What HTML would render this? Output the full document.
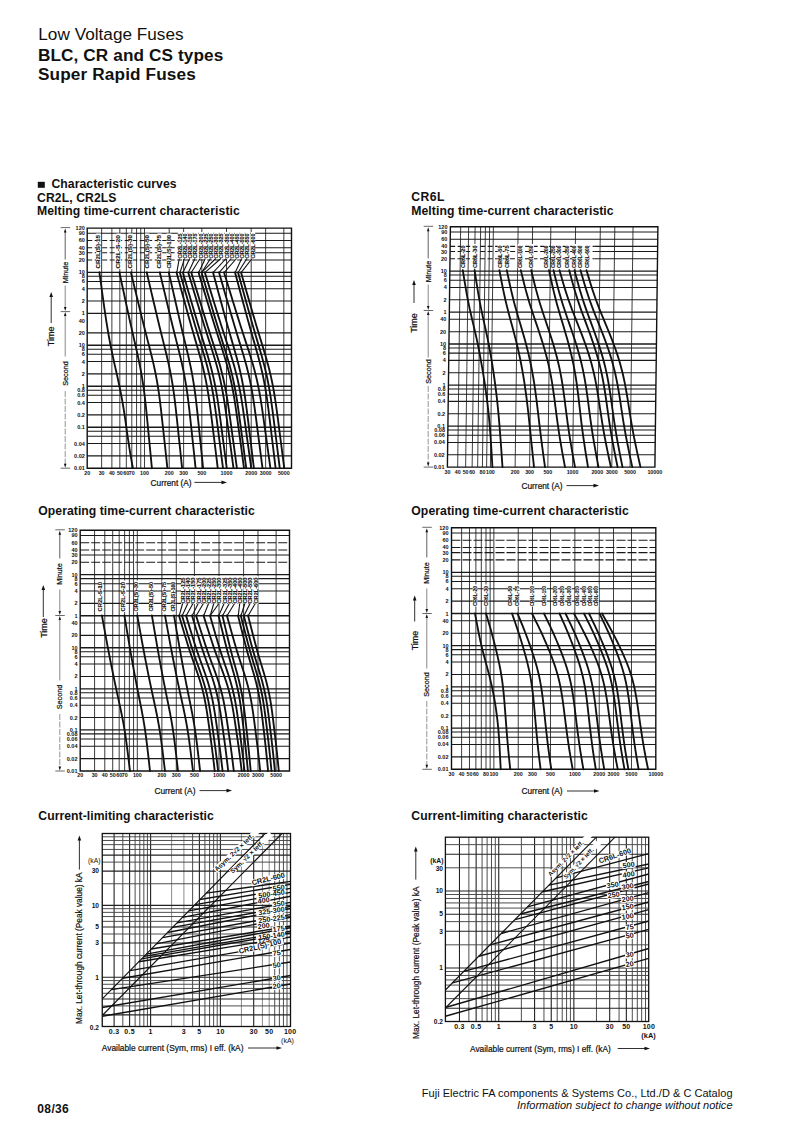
<!DOCTYPE html>
<html><head><meta charset="utf-8"><style>
html,body{margin:0;padding:0;background:#fff;}
body{width:800px;height:1132px;position:relative;overflow:hidden;font-family:"Liberation Sans",sans-serif;color:#111;}
.t{position:absolute;white-space:nowrap;line-height:1;}
svg{position:absolute;left:0;top:0;}
svg text{font-family:"Liberation Sans",sans-serif;}
</style></head><body>
<svg width="800" height="1132" viewBox="0 0 800 1132">
<line x1="87.2" y1="233.22" x2="291.5" y2="233.22" stroke="#1a1a1a" stroke-width="1.05"/>
<line x1="87.2" y1="240.44" x2="256" y2="240.44" stroke="#1a1a1a" stroke-width="1.05" stroke-dasharray="5 2.5"/>
<line x1="256" y1="240.44" x2="291.5" y2="240.44" stroke="#1a1a1a" stroke-width="1.05"/>
<line x1="87.2" y1="247.66" x2="256" y2="247.66" stroke="#1a1a1a" stroke-width="1.05" stroke-dasharray="5 2.5"/>
<line x1="256" y1="247.66" x2="291.5" y2="247.66" stroke="#1a1a1a" stroke-width="1.05"/>
<line x1="87.2" y1="252.78" x2="256" y2="252.78" stroke="#1a1a1a" stroke-width="1.05" stroke-dasharray="5 2.5"/>
<line x1="256" y1="252.78" x2="291.5" y2="252.78" stroke="#1a1a1a" stroke-width="1.05"/>
<line x1="87.2" y1="260" x2="256" y2="260" stroke="#1a1a1a" stroke-width="1.05" stroke-dasharray="5 2.5"/>
<line x1="256" y1="260" x2="291.5" y2="260" stroke="#1a1a1a" stroke-width="1.05"/>
<line x1="87.2" y1="272.34" x2="291.5" y2="272.34" stroke="#1a1a1a" stroke-width="1.35"/>
<line x1="87.2" y1="276.31" x2="291.5" y2="276.31" stroke="#1a1a1a" stroke-width="1.05"/>
<line x1="87.2" y1="281.43" x2="291.5" y2="281.43" stroke="#1a1a1a" stroke-width="1.05"/>
<line x1="87.2" y1="288.65" x2="291.5" y2="288.65" stroke="#1a1a1a" stroke-width="1.05"/>
<line x1="87.2" y1="300.99" x2="291.5" y2="300.99" stroke="#1a1a1a" stroke-width="1.05"/>
<line x1="87.2" y1="313.33" x2="291.5" y2="313.33" stroke="#1a1a1a" stroke-width="1.35"/>
<line x1="87.2" y1="332.89" x2="291.5" y2="332.89" stroke="#1a1a1a" stroke-width="1.05"/>
<line x1="87.2" y1="345.23" x2="291.5" y2="345.23" stroke="#1a1a1a" stroke-width="1.35"/>
<line x1="87.2" y1="349.2" x2="291.5" y2="349.2" stroke="#1a1a1a" stroke-width="1.05"/>
<line x1="87.2" y1="354.32" x2="291.5" y2="354.32" stroke="#1a1a1a" stroke-width="1.05"/>
<line x1="87.2" y1="361.54" x2="291.5" y2="361.54" stroke="#1a1a1a" stroke-width="1.05"/>
<line x1="87.2" y1="373.88" x2="291.5" y2="373.88" stroke="#1a1a1a" stroke-width="1.05"/>
<line x1="87.2" y1="386.22" x2="291.5" y2="386.22" stroke="#1a1a1a" stroke-width="1.35"/>
<line x1="87.2" y1="390.19" x2="291.5" y2="390.19" stroke="#1a1a1a" stroke-width="1.05"/>
<line x1="87.2" y1="395.31" x2="291.5" y2="395.31" stroke="#1a1a1a" stroke-width="1.05"/>
<line x1="87.2" y1="402.53" x2="291.5" y2="402.53" stroke="#1a1a1a" stroke-width="1.05"/>
<line x1="87.2" y1="414.87" x2="291.5" y2="414.87" stroke="#1a1a1a" stroke-width="1.05"/>
<line x1="87.2" y1="427.21" x2="291.5" y2="427.21" stroke="#1a1a1a" stroke-width="1.35"/>
<line x1="87.2" y1="431.18" x2="291.5" y2="431.18" stroke="#1a1a1a" stroke-width="1.05"/>
<line x1="87.2" y1="436.3" x2="291.5" y2="436.3" stroke="#1a1a1a" stroke-width="1.05"/>
<line x1="87.2" y1="443.52" x2="291.5" y2="443.52" stroke="#1a1a1a" stroke-width="1.05"/>
<line x1="87.2" y1="455.86" x2="291.5" y2="455.86" stroke="#1a1a1a" stroke-width="1.05"/>
<line x1="101.64" y1="228.1" x2="101.64" y2="468.2" stroke="#1a1a1a" stroke-width="0.85"/>
<line x1="111.88" y1="228.1" x2="111.88" y2="468.2" stroke="#1a1a1a" stroke-width="0.85"/>
<line x1="119.83" y1="228.1" x2="119.83" y2="468.2" stroke="#1a1a1a" stroke-width="0.85"/>
<line x1="126.32" y1="228.1" x2="126.32" y2="468.2" stroke="#1a1a1a" stroke-width="0.85"/>
<line x1="131.81" y1="228.1" x2="131.81" y2="468.2" stroke="#1a1a1a" stroke-width="0.85"/>
<line x1="136.57" y1="228.1" x2="136.57" y2="468.2" stroke="#1a1a1a" stroke-width="0.85"/>
<line x1="140.76" y1="228.1" x2="140.76" y2="468.2" stroke="#1a1a1a" stroke-width="0.85"/>
<line x1="144.52" y1="228.1" x2="144.52" y2="468.2" stroke="#1a1a1a" stroke-width="0.85"/>
<line x1="169.2" y1="228.1" x2="169.2" y2="468.2" stroke="#1a1a1a" stroke-width="0.85"/>
<line x1="183.64" y1="228.1" x2="183.64" y2="468.2" stroke="#1a1a1a" stroke-width="0.85"/>
<line x1="201.83" y1="228.1" x2="201.83" y2="468.2" stroke="#1a1a1a" stroke-width="0.85"/>
<line x1="226.52" y1="228.1" x2="226.52" y2="468.2" stroke="#1a1a1a" stroke-width="0.85"/>
<line x1="251.2" y1="228.1" x2="251.2" y2="468.2" stroke="#1a1a1a" stroke-width="0.85"/>
<line x1="265.64" y1="228.1" x2="265.64" y2="468.2" stroke="#1a1a1a" stroke-width="0.85"/>
<line x1="283.83" y1="228.1" x2="283.83" y2="468.2" stroke="#1a1a1a" stroke-width="0.85"/>
<rect x="96.2" y="233.5" width="4.6" height="35.5" fill="#fff"/>
<rect x="116.5" y="233.5" width="4.6" height="35.5" fill="#fff"/>
<rect x="128.2" y="233.5" width="4.6" height="35.5" fill="#fff"/>
<rect x="144.9" y="233.5" width="4.6" height="35.5" fill="#fff"/>
<rect x="157.3" y="233.5" width="4.6" height="35.5" fill="#fff"/>
<rect x="166.6" y="233.5" width="4.6" height="35.5" fill="#fff"/>
<rect x="177.8" y="232" width="4.6" height="27" fill="#fff"/>
<rect x="183" y="232" width="4.6" height="27" fill="#fff"/>
<rect x="188.2" y="232" width="4.6" height="27" fill="#fff"/>
<rect x="193.4" y="232" width="4.6" height="27" fill="#fff"/>
<rect x="198.6" y="232" width="4.6" height="27" fill="#fff"/>
<rect x="203.8" y="232" width="4.6" height="27" fill="#fff"/>
<rect x="209" y="232" width="4.6" height="27" fill="#fff"/>
<rect x="214.2" y="232" width="4.6" height="27" fill="#fff"/>
<rect x="219.4" y="232" width="4.6" height="27" fill="#fff"/>
<rect x="224.6" y="232" width="4.6" height="27" fill="#fff"/>
<rect x="229.8" y="232" width="4.6" height="27" fill="#fff"/>
<rect x="235" y="232" width="4.6" height="27" fill="#fff"/>
<rect x="240.2" y="232" width="4.6" height="27" fill="#fff"/>
<rect x="245.4" y="232" width="4.6" height="27" fill="#fff"/>
<rect x="250.6" y="232" width="4.6" height="27" fill="#fff"/>
<text x="100.1" y="268.5" font-size="4.5" text-anchor="start" font-weight="bold" fill="#111" transform="rotate(-90 100.1 268.5)" stroke="#111" stroke-width="0.12" textLength="33.5" lengthAdjust="spacingAndGlyphs">CR2L(S)-15</text>
<text x="120.4" y="268.5" font-size="4.5" text-anchor="start" font-weight="bold" fill="#111" transform="rotate(-90 120.4 268.5)" stroke="#111" stroke-width="0.12" textLength="33.5" lengthAdjust="spacingAndGlyphs">CR2L-S-20</text>
<text x="132.1" y="268.5" font-size="4.5" text-anchor="start" font-weight="bold" fill="#111" transform="rotate(-90 132.1 268.5)" stroke="#111" stroke-width="0.12" textLength="33.5" lengthAdjust="spacingAndGlyphs">CR2L(S)-30</text>
<text x="148.8" y="268.5" font-size="4.5" text-anchor="start" font-weight="bold" fill="#111" transform="rotate(-90 148.8 268.5)" stroke="#111" stroke-width="0.12" textLength="33.5" lengthAdjust="spacingAndGlyphs">CR2L(S)-50</text>
<text x="161.2" y="268.5" font-size="4.5" text-anchor="start" font-weight="bold" fill="#111" transform="rotate(-90 161.2 268.5)" stroke="#111" stroke-width="0.12" textLength="33.5" lengthAdjust="spacingAndGlyphs">CR2L(S)-75</text>
<text x="170.5" y="268.5" font-size="4.5" text-anchor="start" font-weight="bold" fill="#111" transform="rotate(-90 170.5 268.5)" stroke="#111" stroke-width="0.12" textLength="33.5" lengthAdjust="spacingAndGlyphs">CR2L(S)-100</text>
<text x="181.7" y="258.5" font-size="4.5" text-anchor="start" font-weight="bold" fill="#111" transform="rotate(-90 181.7 258.5)" stroke="#111" stroke-width="0.12" textLength="25" lengthAdjust="spacingAndGlyphs">CR2L-125</text>
<text x="186.9" y="258.5" font-size="4.5" text-anchor="start" font-weight="bold" fill="#111" transform="rotate(-90 186.9 258.5)" stroke="#111" stroke-width="0.12" textLength="25" lengthAdjust="spacingAndGlyphs">CR2L-140</text>
<text x="192.1" y="258.5" font-size="4.5" text-anchor="start" font-weight="bold" fill="#111" transform="rotate(-90 192.1 258.5)" stroke="#111" stroke-width="0.12" textLength="25" lengthAdjust="spacingAndGlyphs">CR2L-150</text>
<text x="197.3" y="258.5" font-size="4.5" text-anchor="start" font-weight="bold" fill="#111" transform="rotate(-90 197.3 258.5)" stroke="#111" stroke-width="0.12" textLength="25" lengthAdjust="spacingAndGlyphs">CR2L-175</text>
<text x="202.5" y="258.5" font-size="4.5" text-anchor="start" font-weight="bold" fill="#111" transform="rotate(-90 202.5 258.5)" stroke="#111" stroke-width="0.12" textLength="25" lengthAdjust="spacingAndGlyphs">CR2L-200</text>
<text x="207.7" y="258.5" font-size="4.5" text-anchor="start" font-weight="bold" fill="#111" transform="rotate(-90 207.7 258.5)" stroke="#111" stroke-width="0.12" textLength="25" lengthAdjust="spacingAndGlyphs">CR2L-225</text>
<text x="212.9" y="258.5" font-size="4.5" text-anchor="start" font-weight="bold" fill="#111" transform="rotate(-90 212.9 258.5)" stroke="#111" stroke-width="0.12" textLength="25" lengthAdjust="spacingAndGlyphs">CR2L-250</text>
<text x="218.1" y="258.5" font-size="4.5" text-anchor="start" font-weight="bold" fill="#111" transform="rotate(-90 218.1 258.5)" stroke="#111" stroke-width="0.12" textLength="25" lengthAdjust="spacingAndGlyphs">CR2L-300</text>
<text x="223.3" y="258.5" font-size="4.5" text-anchor="start" font-weight="bold" fill="#111" transform="rotate(-90 223.3 258.5)" stroke="#111" stroke-width="0.12" textLength="25" lengthAdjust="spacingAndGlyphs">CR2L-325</text>
<text x="228.5" y="258.5" font-size="4.5" text-anchor="start" font-weight="bold" fill="#111" transform="rotate(-90 228.5 258.5)" stroke="#111" stroke-width="0.12" textLength="25" lengthAdjust="spacingAndGlyphs">CR2L-350</text>
<text x="233.7" y="258.5" font-size="4.5" text-anchor="start" font-weight="bold" fill="#111" transform="rotate(-90 233.7 258.5)" stroke="#111" stroke-width="0.12" textLength="25" lengthAdjust="spacingAndGlyphs">CR2L-400</text>
<text x="238.9" y="258.5" font-size="4.5" text-anchor="start" font-weight="bold" fill="#111" transform="rotate(-90 238.9 258.5)" stroke="#111" stroke-width="0.12" textLength="25" lengthAdjust="spacingAndGlyphs">CR2L-450</text>
<text x="244.1" y="258.5" font-size="4.5" text-anchor="start" font-weight="bold" fill="#111" transform="rotate(-90 244.1 258.5)" stroke="#111" stroke-width="0.12" textLength="25" lengthAdjust="spacingAndGlyphs">CR2L-500</text>
<text x="249.3" y="258.5" font-size="4.5" text-anchor="start" font-weight="bold" fill="#111" transform="rotate(-90 249.3 258.5)" stroke="#111" stroke-width="0.12" textLength="25" lengthAdjust="spacingAndGlyphs">CR2L-550</text>
<text x="254.5" y="258.5" font-size="4.5" text-anchor="start" font-weight="bold" fill="#111" transform="rotate(-90 254.5 258.5)" stroke="#111" stroke-width="0.12" textLength="25" lengthAdjust="spacingAndGlyphs">CR2L-600</text>
<line x1="179.3" y1="258.5" x2="176.8" y2="272.3" stroke="#111" stroke-width="1.1"/>
<line x1="184.5" y1="258.5" x2="180.1" y2="272.3" stroke="#111" stroke-width="1.1"/>
<line x1="189.7" y1="258.5" x2="183.1" y2="272.3" stroke="#111" stroke-width="1.1"/>
<line x1="194.9" y1="258.5" x2="188.5" y2="272.3" stroke="#111" stroke-width="1.1"/>
<line x1="200.1" y1="258.5" x2="191.5" y2="272.3" stroke="#111" stroke-width="1.1"/>
<line x1="205.3" y1="258.5" x2="198.8" y2="272.3" stroke="#111" stroke-width="1.1"/>
<line x1="210.5" y1="258.5" x2="201.8" y2="272.3" stroke="#111" stroke-width="1.1"/>
<line x1="215.7" y1="258.5" x2="201.8" y2="272.3" stroke="#111" stroke-width="1.1"/>
<line x1="220.9" y1="258.5" x2="205.1" y2="272.3" stroke="#111" stroke-width="1.1"/>
<line x1="226.1" y1="258.5" x2="213.3" y2="272.3" stroke="#111" stroke-width="1.1"/>
<line x1="231.3" y1="258.5" x2="219.3" y2="272.3" stroke="#111" stroke-width="1.1"/>
<line x1="236.5" y1="258.5" x2="224.3" y2="272.3" stroke="#111" stroke-width="1.1"/>
<line x1="241.7" y1="258.5" x2="235.3" y2="272.3" stroke="#111" stroke-width="1.1"/>
<line x1="246.9" y1="258.5" x2="238.3" y2="272.3" stroke="#111" stroke-width="1.1"/>
<line x1="252.1" y1="258.5" x2="241.3" y2="272.3" stroke="#111" stroke-width="1.1"/>
<path d="M87.2 228.1 L291.5 228.1 L291.5 468.2 L87.2 468.2 Z" fill="none" stroke="#111" stroke-width="1.4"/>
<path d="M99.4 272.3 L100.07 277.2 L100.74 282.1 L101.41 286.99 L102.09 291.89 L102.76 296.79 L103.45 301.69 L104.14 306.58 L104.85 311.48 L105.58 316.38 L106.34 321.27 L107.13 326.17 L107.94 331.07 L108.79 335.97 L109.69 340.87 L110.63 345.76 L111.62 350.66 L112.64 355.56 L113.71 360.45 L114.81 365.35 L115.92 370.25 L117.03 375.15 L118.12 380.05 L119.17 384.94 L120.18 389.84 L121.14 394.74 L122.05 399.63 L122.9 404.53 L123.71 409.43 L124.47 414.33 L125.21 419.23 L125.91 424.12 L126.6 429.02 L127.29 433.92 L128 438.81 L128.73 443.71 L129.5 448.61 L130.31 453.51 L131.14 458.4 L132.02 463.3 L132.9 468.2" fill="none" stroke="#111" stroke-width="1.85" stroke-linejoin="round" stroke-linecap="round"/>
<path d="M119.4 272.3 L120.45 277.2 L121.5 282.1 L122.55 286.99 L123.61 291.89 L124.66 296.79 L125.72 301.69 L126.78 306.58 L127.84 311.48 L128.92 316.38 L129.99 321.27 L131.09 326.17 L132.18 331.07 L133.3 335.97 L134.42 340.87 L135.55 345.76 L136.67 350.66 L137.75 355.56 L138.81 360.45 L139.82 365.35 L140.76 370.25 L141.64 375.15 L142.46 380.05 L143.2 384.94 L143.89 389.84 L144.52 394.74 L145.1 399.63 L145.65 404.53 L146.16 409.43 L146.66 414.33 L147.15 419.23 L147.63 424.12 L148.11 429.02 L148.58 433.92 L149.06 438.81 L149.54 443.71 L150.01 448.61 L150.49 453.51 L150.96 458.4 L151.43 463.3 L151.9 468.2" fill="none" stroke="#111" stroke-width="1.85" stroke-linejoin="round" stroke-linecap="round"/>
<path d="M130.9 272.3 L132.08 277.2 L133.26 282.1 L134.44 286.99 L135.63 291.89 L136.81 296.79 L138 301.69 L139.18 306.58 L140.38 311.48 L141.59 316.38 L142.8 321.27 L144.03 326.17 L145.26 331.07 L146.51 335.97 L147.77 340.87 L149.04 345.76 L150.29 350.66 L151.51 355.56 L152.7 360.45 L153.83 365.35 L154.89 370.25 L155.88 375.15 L156.8 380.05 L157.63 384.94 L158.4 389.84 L159.11 394.74 L159.77 399.63 L160.38 404.53 L160.96 409.43 L161.51 414.33 L162.06 419.23 L162.6 424.12 L163.14 429.02 L163.67 433.92 L164.21 438.81 L164.75 443.71 L165.28 448.61 L165.82 453.51 L166.34 458.4 L166.87 463.3 L167.4 468.2" fill="none" stroke="#111" stroke-width="1.85" stroke-linejoin="round" stroke-linecap="round"/>
<path d="M146.7 272.3 L147.84 277.2 L148.99 282.1 L150.14 286.99 L151.28 291.89 L152.43 296.79 L153.58 301.69 L154.74 306.58 L155.9 311.48 L157.06 316.38 L158.24 321.27 L159.43 326.17 L160.62 331.07 L161.84 335.97 L163.06 340.87 L164.29 345.76 L165.51 350.66 L166.69 355.56 L167.84 360.45 L168.94 365.35 L169.97 370.25 L170.93 375.15 L171.81 380.05 L172.62 384.94 L173.37 389.84 L174.06 394.74 L174.7 399.63 L175.29 404.53 L175.85 409.43 L176.39 414.33 L176.92 419.23 L177.45 424.12 L177.97 429.02 L178.49 433.92 L179.01 438.81 L179.53 443.71 L180.05 448.61 L180.56 453.51 L181.08 458.4 L181.59 463.3 L182.1 468.2" fill="none" stroke="#111" stroke-width="1.85" stroke-linejoin="round" stroke-linecap="round"/>
<path d="M159.8 272.3 L160.96 277.2 L162.11 282.1 L163.27 286.99 L164.43 291.89 L165.6 296.79 L166.76 301.69 L167.93 306.58 L169.1 311.48 L170.28 316.38 L171.47 321.27 L172.67 326.17 L173.88 331.07 L175.11 335.97 L176.35 340.87 L177.59 345.76 L178.82 350.66 L180.02 355.56 L181.18 360.45 L182.29 365.35 L183.33 370.25 L184.3 375.15 L185.2 380.05 L186.02 384.94 L186.77 389.84 L187.47 394.74 L188.11 399.63 L188.71 404.53 L189.28 409.43 L189.83 414.33 L190.36 419.23 L190.89 424.12 L191.42 429.02 L191.95 433.92 L192.47 438.81 L193 443.71 L193.52 448.61 L194.05 453.51 L194.56 458.4 L195.08 463.3 L195.6 468.2" fill="none" stroke="#111" stroke-width="1.85" stroke-linejoin="round" stroke-linecap="round"/>
<path d="M168.8 272.3 L169.91 277.2 L171.02 282.1 L172.13 286.99 L173.24 291.89 L174.35 296.79 L175.47 301.69 L176.59 306.58 L177.71 311.48 L178.84 316.38 L179.98 321.27 L181.14 326.17 L182.29 331.07 L183.47 335.97 L184.66 340.87 L185.84 345.76 L187.02 350.66 L188.17 355.56 L189.28 360.45 L190.35 365.35 L191.34 370.25 L192.28 375.15 L193.13 380.05 L193.92 384.94 L194.64 389.84 L195.31 394.74 L195.93 399.63 L196.5 404.53 L197.04 409.43 L197.57 414.33 L198.08 419.23 L198.59 424.12 L199.1 429.02 L199.6 433.92 L200.1 438.81 L200.61 443.71 L201.11 448.61 L201.61 453.51 L202.11 458.4 L202.61 463.3 L203.1 468.2" fill="none" stroke="#111" stroke-width="1.85" stroke-linejoin="round" stroke-linecap="round"/>
<path d="M176.5 272.3 L177.83 277.2 L179.16 282.1 L180.5 286.99 L181.84 291.89 L183.18 296.79 L184.52 301.69 L185.86 306.58 L187.22 311.48 L188.58 316.38 L189.95 321.27 L191.33 326.17 L192.73 331.07 L194.14 335.97 L195.57 340.87 L197 345.76 L198.41 350.66 L199.79 355.56 L201.13 360.45 L202.41 365.35 L203.61 370.25 L204.73 375.15 L205.77 380.05 L206.71 384.94 L207.58 389.84 L208.38 394.74 L209.12 399.63 L209.82 404.53 L210.47 409.43 L211.1 414.33 L211.72 419.23 L212.33 424.12 L212.94 429.02 L213.54 433.92 L214.15 438.81 L214.75 443.71 L215.36 448.61 L215.96 453.51 L216.56 458.4 L217.16 463.3 L217.75 468.2" fill="none" stroke="#111" stroke-width="1.85" stroke-linejoin="round" stroke-linecap="round"/>
<path d="M179.8 272.3 L181.2 277.2 L182.59 282.1 L183.99 286.99 L185.39 291.89 L186.79 296.79 L188.2 301.69 L189.61 306.58 L191.02 311.48 L192.45 316.38 L193.88 321.27 L195.34 326.17 L196.79 331.07 L198.27 335.97 L199.77 340.87 L201.26 345.76 L202.75 350.66 L204.2 355.56 L205.6 360.45 L206.94 365.35 L208.19 370.25 L209.37 375.15 L210.45 380.05 L211.44 384.94 L212.35 389.84 L213.19 394.74 L213.97 399.63 L214.69 404.53 L215.37 409.43 L216.03 414.33 L216.68 419.23 L217.32 424.12 L217.96 429.02 L218.59 433.92 L219.23 438.81 L219.86 443.71 L220.49 448.61 L221.13 453.51 L221.75 458.4 L222.38 463.3 L223 468.2" fill="none" stroke="#111" stroke-width="1.85" stroke-linejoin="round" stroke-linecap="round"/>
<path d="M182.8 272.3 L184.22 277.2 L185.64 282.1 L187.07 286.99 L188.49 291.89 L189.92 296.79 L191.35 301.69 L192.78 306.58 L194.22 311.48 L195.67 316.38 L197.13 321.27 L198.61 326.17 L200.09 331.07 L201.59 335.97 L203.12 340.87 L204.64 345.76 L206.15 350.66 L207.62 355.56 L209.05 360.45 L210.41 365.35 L211.69 370.25 L212.88 375.15 L213.98 380.05 L214.99 384.94 L215.92 389.84 L216.77 394.74 L217.56 399.63 L218.3 404.53 L218.99 409.43 L219.66 414.33 L220.32 419.23 L220.97 424.12 L221.62 429.02 L222.26 433.92 L222.91 438.81 L223.56 443.71 L224.2 448.61 L224.84 453.51 L225.48 458.4 L226.12 463.3 L226.75 468.2" fill="none" stroke="#111" stroke-width="1.85" stroke-linejoin="round" stroke-linecap="round"/>
<path d="M188.2 272.3 L189.66 277.2 L191.13 282.1 L192.6 286.99 L194.06 291.89 L195.53 296.79 L197.01 301.69 L198.48 306.58 L199.97 311.48 L201.46 316.38 L202.97 321.27 L204.49 326.17 L206.02 331.07 L207.57 335.97 L209.14 340.87 L210.71 345.76 L212.27 350.66 L213.78 355.56 L215.25 360.45 L216.66 365.35 L217.98 370.25 L219.21 375.15 L220.34 380.05 L221.37 384.94 L222.33 389.84 L223.21 394.74 L224.03 399.63 L224.79 404.53 L225.5 409.43 L226.2 414.33 L226.87 419.23 L227.54 424.12 L228.21 429.02 L228.88 433.92 L229.54 438.81 L230.21 443.71 L230.87 448.61 L231.53 453.51 L232.19 458.4 L232.85 463.3 L233.5 468.2" fill="none" stroke="#111" stroke-width="1.85" stroke-linejoin="round" stroke-linecap="round"/>
<path d="M191.2 272.3 L192.68 277.2 L194.15 282.1 L195.64 286.99 L197.12 291.89 L198.6 296.79 L200.09 301.69 L201.57 306.58 L203.07 311.48 L204.58 316.38 L206.1 321.27 L207.63 326.17 L209.18 331.07 L210.74 335.97 L212.33 340.87 L213.91 345.76 L215.48 350.66 L217.01 355.56 L218.49 360.45 L219.91 365.35 L221.24 370.25 L222.48 375.15 L223.62 380.05 L224.67 384.94 L225.63 389.84 L226.52 394.74 L227.34 399.63 L228.11 404.53 L228.83 409.43 L229.53 414.33 L230.21 419.23 L230.89 424.12 L231.57 429.02 L232.23 433.92 L232.91 438.81 L233.58 443.71 L234.25 448.61 L234.92 453.51 L235.58 458.4 L236.24 463.3 L236.9 468.2" fill="none" stroke="#111" stroke-width="1.85" stroke-linejoin="round" stroke-linecap="round"/>
<path d="M198.5 272.3 L199.97 277.2 L201.44 282.1 L202.92 286.99 L204.39 291.89 L205.87 296.79 L207.35 301.69 L208.83 306.58 L210.32 311.48 L211.82 316.38 L213.33 321.27 L214.86 326.17 L216.4 331.07 L217.96 335.97 L219.53 340.87 L221.11 345.76 L222.67 350.66 L224.19 355.56 L225.67 360.45 L227.08 365.35 L228.41 370.25 L229.64 375.15 L230.78 380.05 L231.82 384.94 L232.78 389.84 L233.67 394.74 L234.49 399.63 L235.25 404.53 L235.97 409.43 L236.66 414.33 L237.34 419.23 L238.02 424.12 L238.69 429.02 L239.36 433.92 L240.03 438.81 L240.69 443.71 L241.36 448.61 L242.03 453.51 L242.68 458.4 L243.34 463.3 L244 468.2" fill="none" stroke="#111" stroke-width="1.85" stroke-linejoin="round" stroke-linecap="round"/>
<path d="M201.5 272.3 L202.95 277.2 L204.39 282.1 L205.84 286.99 L207.29 291.89 L208.75 296.79 L210.2 301.69 L211.66 306.58 L213.13 311.48 L214.6 316.38 L216.09 321.27 L217.59 326.17 L219.1 331.07 L220.64 335.97 L222.19 340.87 L223.73 345.76 L225.27 350.66 L226.77 355.56 L228.22 360.45 L229.61 365.35 L230.91 370.25 L232.13 375.15 L233.25 380.05 L234.27 384.94 L235.22 389.84 L236.09 394.74 L236.89 399.63 L237.64 404.53 L238.35 409.43 L239.03 414.33 L239.7 419.23 L240.37 424.12 L241.03 429.02 L241.68 433.92 L242.34 438.81 L243 443.71 L243.65 448.61 L244.31 453.51 L244.96 458.4 L245.6 463.3 L246.25 468.2" fill="none" stroke="#111" stroke-width="1.85" stroke-linejoin="round" stroke-linecap="round"/>
<path d="M204.8 272.3 L206.3 277.2 L207.8 282.1 L209.31 286.99 L210.81 291.89 L212.32 296.79 L213.83 301.69 L215.34 306.58 L216.87 311.48 L218.4 316.38 L219.94 321.27 L221.5 326.17 L223.07 331.07 L224.66 335.97 L226.27 340.87 L227.88 345.76 L229.48 350.66 L231.03 355.56 L232.54 360.45 L233.98 365.35 L235.33 370.25 L236.59 375.15 L237.75 380.05 L238.82 384.94 L239.8 389.84 L240.7 394.74 L241.54 399.63 L242.32 404.53 L243.05 409.43 L243.76 414.33 L244.46 419.23 L245.14 424.12 L245.83 429.02 L246.51 433.92 L247.19 438.81 L247.87 443.71 L248.56 448.61 L249.23 453.51 L249.91 458.4 L250.58 463.3 L251.25 468.2" fill="none" stroke="#111" stroke-width="1.85" stroke-linejoin="round" stroke-linecap="round"/>
<path d="M213 272.3 L214.32 277.2 L215.64 282.1 L216.97 286.99 L218.29 291.89 L219.62 296.79 L220.95 301.69 L222.28 306.58 L223.63 311.48 L224.98 316.38 L226.33 321.27 L227.71 326.17 L229.09 331.07 L230.49 335.97 L231.91 340.87 L233.32 345.76 L234.73 350.66 L236.1 355.56 L237.43 360.45 L238.69 365.35 L239.88 370.25 L240.99 375.15 L242.02 380.05 L242.95 384.94 L243.82 389.84 L244.61 394.74 L245.35 399.63 L246.03 404.53 L246.68 409.43 L247.31 414.33 L247.92 419.23 L248.52 424.12 L249.13 429.02 L249.72 433.92 L250.33 438.81 L250.93 443.71 L251.53 448.61 L252.13 453.51 L252.72 458.4 L253.31 463.3 L253.9 468.2" fill="none" stroke="#111" stroke-width="1.85" stroke-linejoin="round" stroke-linecap="round"/>
<path d="M219 272.3 L220.41 277.2 L221.81 282.1 L223.22 286.99 L224.63 291.89 L226.04 296.79 L227.46 301.69 L228.87 306.58 L230.3 311.48 L231.74 316.38 L233.18 321.27 L234.64 326.17 L236.11 331.07 L237.6 335.97 L239.11 340.87 L240.61 345.76 L242.11 350.66 L243.57 355.56 L244.98 360.45 L246.33 365.35 L247.59 370.25 L248.77 375.15 L249.86 380.05 L250.86 384.94 L251.78 389.84 L252.62 394.74 L253.4 399.63 L254.13 404.53 L254.82 409.43 L255.49 414.33 L256.14 419.23 L256.78 424.12 L257.42 429.02 L258.06 433.92 L258.7 438.81 L259.34 443.71 L259.98 448.61 L260.61 453.51 L261.24 458.4 L261.87 463.3 L262.5 468.2" fill="none" stroke="#111" stroke-width="1.85" stroke-linejoin="round" stroke-linecap="round"/>
<path d="M224 272.3 L225.5 277.2 L227 282.1 L228.5 286.99 L230.01 291.89 L231.51 296.79 L233.02 301.69 L234.53 306.58 L236.06 311.48 L237.59 316.38 L239.13 321.27 L240.69 326.17 L242.25 331.07 L243.84 335.97 L245.45 340.87 L247.05 345.76 L248.65 350.66 L250.2 355.56 L251.71 360.45 L253.15 365.35 L254.5 370.25 L255.76 375.15 L256.92 380.05 L257.98 384.94 L258.96 389.84 L259.86 394.74 L260.7 399.63 L261.47 404.53 L262.21 409.43 L262.92 414.33 L263.61 419.23 L264.3 424.12 L264.98 429.02 L265.66 433.92 L266.35 438.81 L267.03 443.71 L267.71 448.61 L268.39 453.51 L269.06 458.4 L269.73 463.3 L270.4 468.2" fill="none" stroke="#111" stroke-width="1.85" stroke-linejoin="round" stroke-linecap="round"/>
<path d="M235 272.3 L236.31 277.2 L237.62 282.1 L238.94 286.99 L240.26 291.89 L241.57 296.79 L242.89 301.69 L244.22 306.58 L245.55 311.48 L246.89 316.38 L248.24 321.27 L249.6 326.17 L250.97 331.07 L252.36 335.97 L253.77 340.87 L255.17 345.76 L256.57 350.66 L257.93 355.56 L259.25 360.45 L260.5 365.35 L261.69 370.25 L262.79 375.15 L263.8 380.05 L264.73 384.94 L265.59 389.84 L266.38 394.74 L267.11 399.63 L267.79 404.53 L268.43 409.43 L269.05 414.33 L269.66 419.23 L270.26 424.12 L270.86 429.02 L271.46 433.92 L272.05 438.81 L272.65 443.71 L273.24 448.61 L273.84 453.51 L274.43 458.4 L275.01 463.3 L275.6 468.2" fill="none" stroke="#111" stroke-width="1.85" stroke-linejoin="round" stroke-linecap="round"/>
<path d="M238 272.3 L239.35 277.2 L240.7 282.1 L242.05 286.99 L243.41 291.89 L244.76 296.79 L246.12 301.69 L247.48 306.58 L248.85 311.48 L250.22 316.38 L251.61 321.27 L253.01 326.17 L254.42 331.07 L255.85 335.97 L257.3 340.87 L258.74 345.76 L260.18 350.66 L261.58 355.56 L262.93 360.45 L264.23 365.35 L265.44 370.25 L266.58 375.15 L267.62 380.05 L268.57 384.94 L269.46 389.84 L270.27 394.74 L271.02 399.63 L271.72 404.53 L272.38 409.43 L273.02 414.33 L273.64 419.23 L274.26 424.12 L274.88 429.02 L275.49 433.92 L276.1 438.81 L276.72 443.71 L277.33 448.61 L277.94 453.51 L278.54 458.4 L279.15 463.3 L279.75 468.2" fill="none" stroke="#111" stroke-width="1.85" stroke-linejoin="round" stroke-linecap="round"/>
<path d="M241 272.3 L242.4 277.2 L243.79 282.1 L245.2 286.99 L246.6 291.89 L248 296.79 L249.41 301.69 L250.82 306.58 L252.24 311.48 L253.66 316.38 L255.1 321.27 L256.55 326.17 L258.01 331.07 L259.5 335.97 L260.99 340.87 L262.49 345.76 L263.98 350.66 L265.42 355.56 L266.83 360.45 L268.17 365.35 L269.43 370.25 L270.6 375.15 L271.68 380.05 L272.67 384.94 L273.59 389.84 L274.43 394.74 L275.21 399.63 L275.93 404.53 L276.61 409.43 L277.28 414.33 L277.92 419.23 L278.56 424.12 L279.2 429.02 L279.84 433.92 L280.47 438.81 L281.11 443.71 L281.74 448.61 L282.37 453.51 L283 458.4 L283.63 463.3 L284.25 468.2" fill="none" stroke="#111" stroke-width="1.85" stroke-linejoin="round" stroke-linecap="round"/>
<text x="84.8" y="230.1" font-size="5.5" text-anchor="end" font-weight="bold" fill="#111">120</text>
<text x="84.8" y="235.22" font-size="5.5" text-anchor="end" font-weight="bold" fill="#111">90</text>
<text x="84.8" y="242.44" font-size="5.5" text-anchor="end" font-weight="bold" fill="#111">60</text>
<text x="84.8" y="249.66" font-size="5.5" text-anchor="end" font-weight="bold" fill="#111">40</text>
<text x="84.8" y="254.78" font-size="5.5" text-anchor="end" font-weight="bold" fill="#111">30</text>
<text x="84.8" y="262" font-size="5.5" text-anchor="end" font-weight="bold" fill="#111">20</text>
<text x="84.8" y="274.34" font-size="5.5" text-anchor="end" font-weight="bold" fill="#111">10</text>
<text x="84.8" y="278.31" font-size="5.5" text-anchor="end" font-weight="bold" fill="#111">8</text>
<text x="84.8" y="283.43" font-size="5.5" text-anchor="end" font-weight="bold" fill="#111">6</text>
<text x="84.8" y="290.65" font-size="5.5" text-anchor="end" font-weight="bold" fill="#111">4</text>
<text x="84.8" y="302.99" font-size="5.5" text-anchor="end" font-weight="bold" fill="#111">2</text>
<text x="84.8" y="315.33" font-size="5.5" text-anchor="end" font-weight="bold" fill="#111">1</text>
<text x="84.8" y="322.55" font-size="5.5" text-anchor="end" font-weight="bold" fill="#111">40</text>
<text x="84.8" y="334.89" font-size="5.5" text-anchor="end" font-weight="bold" fill="#111">20</text>
<text x="84.8" y="347.23" font-size="5.5" text-anchor="end" font-weight="bold" fill="#111">10</text>
<text x="84.8" y="351.2" font-size="5.5" text-anchor="end" font-weight="bold" fill="#111">8</text>
<text x="84.8" y="356.32" font-size="5.5" text-anchor="end" font-weight="bold" fill="#111">6</text>
<text x="84.8" y="363.54" font-size="5.5" text-anchor="end" font-weight="bold" fill="#111">4</text>
<text x="84.8" y="375.88" font-size="5.5" text-anchor="end" font-weight="bold" fill="#111">2</text>
<text x="84.8" y="388.22" font-size="5.5" text-anchor="end" font-weight="bold" fill="#111">1</text>
<text x="84.8" y="392.19" font-size="5.5" text-anchor="end" font-weight="bold" fill="#111">0.8</text>
<text x="84.8" y="397.31" font-size="5.5" text-anchor="end" font-weight="bold" fill="#111">0.6</text>
<text x="84.8" y="404.53" font-size="5.5" text-anchor="end" font-weight="bold" fill="#111">0.4</text>
<text x="84.8" y="416.87" font-size="5.5" text-anchor="end" font-weight="bold" fill="#111">0.2</text>
<text x="84.8" y="429.21" font-size="5.5" text-anchor="end" font-weight="bold" fill="#111">0.1</text>
<text x="84.8" y="445.52" font-size="5.5" text-anchor="end" font-weight="bold" fill="#111">0.04</text>
<text x="84.8" y="457.86" font-size="5.5" text-anchor="end" font-weight="bold" fill="#111">0.02</text>
<text x="84.8" y="470.2" font-size="5.5" text-anchor="end" font-weight="bold" fill="#111">0.01</text>
<text x="87.2" y="474.6" font-size="5.3" text-anchor="middle" font-weight="bold" fill="#111">20</text>
<text x="101.64" y="474.6" font-size="5.3" text-anchor="middle" font-weight="bold" fill="#111">30</text>
<text x="111.88" y="474.6" font-size="5.3" text-anchor="middle" font-weight="bold" fill="#111">40</text>
<text x="119.83" y="474.6" font-size="5.3" text-anchor="middle" font-weight="bold" fill="#111">50</text>
<text x="126.32" y="474.6" font-size="5.3" text-anchor="middle" font-weight="bold" fill="#111">60</text>
<text x="131.81" y="474.6" font-size="5.3" text-anchor="middle" font-weight="bold" fill="#111">70</text>
<text x="144.52" y="474.6" font-size="5.3" text-anchor="middle" font-weight="bold" fill="#111">100</text>
<text x="169.2" y="474.6" font-size="5.3" text-anchor="middle" font-weight="bold" fill="#111">200</text>
<text x="183.64" y="474.6" font-size="5.3" text-anchor="middle" font-weight="bold" fill="#111">300</text>
<text x="201.83" y="474.6" font-size="5.3" text-anchor="middle" font-weight="bold" fill="#111">500</text>
<text x="226.52" y="474.6" font-size="5.3" text-anchor="middle" font-weight="bold" fill="#111">1000</text>
<text x="251.2" y="474.6" font-size="5.3" text-anchor="middle" font-weight="bold" fill="#111">2000</text>
<text x="265.64" y="474.6" font-size="5.3" text-anchor="middle" font-weight="bold" fill="#111">3000</text>
<text x="283.83" y="474.6" font-size="5.3" text-anchor="middle" font-weight="bold" fill="#111">5000</text>
<line x1="60.7" y1="227.6" x2="70.2" y2="227.6" stroke="#444" stroke-width="0.8"/>
<line x1="60.7" y1="311.6" x2="70.2" y2="311.6" stroke="#444" stroke-width="0.8"/>
<line x1="60.7" y1="468.2" x2="70.2" y2="468.2" stroke="#444" stroke-width="0.8"/>
<line x1="65.2" y1="259.5" x2="65.2" y2="231.8" stroke="#1a1a1a" stroke-width="0.7"/>
<path d="M65.2 228.6 L63.9 232.6 L66.5 232.6 Z" fill="#111"/>
<line x1="65.2" y1="285.5" x2="65.2" y2="307.6" stroke="#555" stroke-width="0.7"/>
<path d="M65.2 311.1 L63.9 307.1 L66.5 307.1 Z" fill="#111"/>
<path d="M65.2 312.1 L63.9 316.1 L66.5 316.1 Z" fill="#111"/>
<line x1="65.2" y1="315.6" x2="65.2" y2="356.5" stroke="#555" stroke-width="0.7"/>
<line x1="65.2" y1="391" x2="65.2" y2="464.2" stroke="#666" stroke-width="0.7" stroke-dasharray="6 1.5"/>
<path d="M65.2 467.7 L63.9 463.7 L66.5 463.7 Z" fill="#111"/>
<text x="67.8" y="272.5" font-size="7.2" text-anchor="middle" font-weight="normal" fill="#111" transform="rotate(-90 67.8 272.5)" stroke="#111" stroke-width="0.22">Minute</text>
<text x="67.8" y="373.5" font-size="7.2" text-anchor="middle" font-weight="normal" fill="#111" transform="rotate(-90 67.8 373.5)" stroke="#111" stroke-width="0.22">Second</text>
<text x="54.4" y="336.3" font-size="9" text-anchor="middle" font-weight="normal" fill="#111" transform="rotate(-90 54.4 336.3)" stroke="#111" stroke-width="0.22">Time</text>
<line x1="51.2" y1="323" x2="51.2" y2="296" stroke="#1a1a1a" stroke-width="0.9"/>
<path d="M51.2 292 L49.4 297 L53 297 Z" fill="#111"/>
<text x="150.6" y="485.6" font-size="8.3" text-anchor="start" font-weight="normal" fill="#111" stroke="#111" stroke-width="0.22">Current (A)</text>
<line x1="194.4" y1="482.4" x2="222.6" y2="482.4" stroke="#1a1a1a" stroke-width="0.9"/>
<path d="M227 482.4 L221.5 480.6 L221.5 484.2 Z" fill="#111"/>
<line x1="450.34" y1="231.93" x2="657.84" y2="231.93" stroke="#1a1a1a" stroke-width="1.05"/>
<line x1="450.25" y1="239.15" x2="657.75" y2="239.15" stroke="#1a1a1a" stroke-width="1.05"/>
<line x1="450.16" y1="246.37" x2="594.76" y2="246.37" stroke="#1a1a1a" stroke-width="1.05" stroke-dasharray="5 2.5"/>
<line x1="594.76" y1="246.37" x2="657.66" y2="246.37" stroke="#1a1a1a" stroke-width="1.05"/>
<line x1="450.09" y1="251.5" x2="594.69" y2="251.5" stroke="#1a1a1a" stroke-width="1.05" stroke-dasharray="5 2.5"/>
<line x1="594.69" y1="251.5" x2="657.59" y2="251.5" stroke="#1a1a1a" stroke-width="1.05"/>
<line x1="450" y1="258.72" x2="594.6" y2="258.72" stroke="#1a1a1a" stroke-width="1.05" stroke-dasharray="5 2.5"/>
<line x1="594.6" y1="258.72" x2="657.5" y2="258.72" stroke="#1a1a1a" stroke-width="1.05"/>
<line x1="449.85" y1="271.07" x2="657.35" y2="271.07" stroke="#1a1a1a" stroke-width="1.35"/>
<line x1="449.8" y1="275.05" x2="657.3" y2="275.05" stroke="#1a1a1a" stroke-width="1.05"/>
<line x1="449.73" y1="280.18" x2="657.23" y2="280.18" stroke="#1a1a1a" stroke-width="1.05"/>
<line x1="449.64" y1="287.4" x2="657.14" y2="287.4" stroke="#1a1a1a" stroke-width="1.05"/>
<line x1="449.49" y1="299.75" x2="656.99" y2="299.75" stroke="#1a1a1a" stroke-width="1.05"/>
<line x1="449.34" y1="312.1" x2="656.84" y2="312.1" stroke="#1a1a1a" stroke-width="1.35"/>
<line x1="449.24" y1="319.32" x2="656.74" y2="319.32" stroke="#1a1a1a" stroke-width="1.05"/>
<line x1="449.09" y1="331.67" x2="656.59" y2="331.67" stroke="#1a1a1a" stroke-width="1.05"/>
<line x1="448.94" y1="344.02" x2="656.44" y2="344.02" stroke="#1a1a1a" stroke-width="1.35"/>
<line x1="448.89" y1="348" x2="656.39" y2="348" stroke="#1a1a1a" stroke-width="1.05"/>
<line x1="448.82" y1="353.12" x2="656.32" y2="353.12" stroke="#1a1a1a" stroke-width="1.05"/>
<line x1="448.73" y1="360.35" x2="656.23" y2="360.35" stroke="#1a1a1a" stroke-width="1.05"/>
<line x1="448.58" y1="372.7" x2="656.08" y2="372.7" stroke="#1a1a1a" stroke-width="1.05"/>
<line x1="448.42" y1="385.05" x2="655.92" y2="385.05" stroke="#1a1a1a" stroke-width="1.35"/>
<line x1="448.37" y1="389.02" x2="655.87" y2="389.02" stroke="#1a1a1a" stroke-width="1.05"/>
<line x1="448.31" y1="394.15" x2="655.81" y2="394.15" stroke="#1a1a1a" stroke-width="1.05"/>
<line x1="448.22" y1="401.37" x2="655.72" y2="401.37" stroke="#1a1a1a" stroke-width="1.05"/>
<line x1="448.07" y1="413.72" x2="655.57" y2="413.72" stroke="#1a1a1a" stroke-width="1.05"/>
<line x1="447.91" y1="426.07" x2="655.41" y2="426.07" stroke="#1a1a1a" stroke-width="1.35"/>
<line x1="447.86" y1="430.05" x2="655.36" y2="430.05" stroke="#1a1a1a" stroke-width="1.05"/>
<line x1="447.8" y1="435.18" x2="655.3" y2="435.18" stroke="#1a1a1a" stroke-width="1.05"/>
<line x1="447.71" y1="442.4" x2="655.21" y2="442.4" stroke="#1a1a1a" stroke-width="1.05"/>
<line x1="447.55" y1="454.75" x2="655.05" y2="454.75" stroke="#1a1a1a" stroke-width="1.05"/>
<line x1="460.67" y1="226.8" x2="457.67" y2="467.1" stroke="#1a1a1a" stroke-width="0.85"/>
<line x1="468.64" y1="226.8" x2="465.64" y2="467.1" stroke="#1a1a1a" stroke-width="0.85"/>
<line x1="475.14" y1="226.8" x2="472.14" y2="467.1" stroke="#1a1a1a" stroke-width="0.85"/>
<line x1="480.65" y1="226.8" x2="477.65" y2="467.1" stroke="#1a1a1a" stroke-width="0.85"/>
<line x1="485.41" y1="226.8" x2="482.41" y2="467.1" stroke="#1a1a1a" stroke-width="0.85"/>
<line x1="489.62" y1="226.8" x2="486.62" y2="467.1" stroke="#1a1a1a" stroke-width="0.85"/>
<line x1="493.38" y1="226.8" x2="490.38" y2="467.1" stroke="#1a1a1a" stroke-width="0.85"/>
<line x1="518.13" y1="226.8" x2="515.13" y2="467.1" stroke="#1a1a1a" stroke-width="0.85"/>
<line x1="532.6" y1="226.8" x2="529.6" y2="467.1" stroke="#1a1a1a" stroke-width="0.85"/>
<line x1="550.84" y1="226.8" x2="547.84" y2="467.1" stroke="#1a1a1a" stroke-width="0.85"/>
<line x1="575.58" y1="226.8" x2="572.58" y2="467.1" stroke="#1a1a1a" stroke-width="0.85"/>
<line x1="600.33" y1="226.8" x2="597.33" y2="467.1" stroke="#1a1a1a" stroke-width="0.85"/>
<line x1="614.8" y1="226.8" x2="611.8" y2="467.1" stroke="#1a1a1a" stroke-width="0.85"/>
<line x1="633.04" y1="226.8" x2="630.04" y2="467.1" stroke="#1a1a1a" stroke-width="0.85"/>
<rect x="461.3" y="244" width="4.6" height="24.5" fill="#fff"/>
<rect x="473.2" y="244" width="4.6" height="24.5" fill="#fff"/>
<rect x="497.7" y="244" width="4.6" height="24.5" fill="#fff"/>
<rect x="504.6" y="244" width="4.6" height="24.5" fill="#fff"/>
<rect x="517.7" y="244" width="4.6" height="24.5" fill="#fff"/>
<rect x="529.4" y="244" width="4.6" height="24.5" fill="#fff"/>
<rect x="544.45" y="244" width="4.6" height="24.5" fill="#fff"/>
<rect x="551.2" y="244" width="4.6" height="24.5" fill="#fff"/>
<rect x="557.2" y="244" width="4.6" height="24.5" fill="#fff"/>
<rect x="565.45" y="244" width="4.6" height="24.5" fill="#fff"/>
<rect x="572.2" y="244" width="4.6" height="24.5" fill="#fff"/>
<rect x="578.45" y="244" width="4.6" height="24.5" fill="#fff"/>
<rect x="584.9" y="244" width="4.6" height="24.5" fill="#fff"/>
<text x="465.2" y="268" font-size="4.5" text-anchor="start" font-weight="bold" fill="#111" transform="rotate(-90 465.2 268)" stroke="#111" stroke-width="0.12" textLength="22.5" lengthAdjust="spacingAndGlyphs">CR6L-20</text>
<text x="477.1" y="268" font-size="4.5" text-anchor="start" font-weight="bold" fill="#111" transform="rotate(-90 477.1 268)" stroke="#111" stroke-width="0.12" textLength="22.5" lengthAdjust="spacingAndGlyphs">CR6L-30</text>
<text x="501.6" y="268" font-size="4.5" text-anchor="start" font-weight="bold" fill="#111" transform="rotate(-90 501.6 268)" stroke="#111" stroke-width="0.12" textLength="22.5" lengthAdjust="spacingAndGlyphs">CR6L-50</text>
<text x="508.5" y="268" font-size="4.5" text-anchor="start" font-weight="bold" fill="#111" transform="rotate(-90 508.5 268)" stroke="#111" stroke-width="0.12" textLength="22.5" lengthAdjust="spacingAndGlyphs">CR6L-75</text>
<text x="521.6" y="268" font-size="4.5" text-anchor="start" font-weight="bold" fill="#111" transform="rotate(-90 521.6 268)" stroke="#111" stroke-width="0.12" textLength="22.5" lengthAdjust="spacingAndGlyphs">CR6L-100</text>
<text x="533.3" y="268" font-size="4.5" text-anchor="start" font-weight="bold" fill="#111" transform="rotate(-90 533.3 268)" stroke="#111" stroke-width="0.12" textLength="22.5" lengthAdjust="spacingAndGlyphs">CR6L-150</text>
<text x="548.35" y="268" font-size="4.5" text-anchor="start" font-weight="bold" fill="#111" transform="rotate(-90 548.35 268)" stroke="#111" stroke-width="0.12" textLength="22.5" lengthAdjust="spacingAndGlyphs">CR6L-200</text>
<text x="555.1" y="268" font-size="4.5" text-anchor="start" font-weight="bold" fill="#111" transform="rotate(-90 555.1 268)" stroke="#111" stroke-width="0.12" textLength="22.5" lengthAdjust="spacingAndGlyphs">CR6L-250</text>
<text x="561.1" y="268" font-size="4.5" text-anchor="start" font-weight="bold" fill="#111" transform="rotate(-90 561.1 268)" stroke="#111" stroke-width="0.12" textLength="22.5" lengthAdjust="spacingAndGlyphs">CR6L-300</text>
<text x="569.35" y="268" font-size="4.5" text-anchor="start" font-weight="bold" fill="#111" transform="rotate(-90 569.35 268)" stroke="#111" stroke-width="0.12" textLength="22.5" lengthAdjust="spacingAndGlyphs">CR6L-350</text>
<text x="576.1" y="268" font-size="4.5" text-anchor="start" font-weight="bold" fill="#111" transform="rotate(-90 576.1 268)" stroke="#111" stroke-width="0.12" textLength="22.5" lengthAdjust="spacingAndGlyphs">CR6L-400</text>
<text x="582.35" y="268" font-size="4.5" text-anchor="start" font-weight="bold" fill="#111" transform="rotate(-90 582.35 268)" stroke="#111" stroke-width="0.12" textLength="22.5" lengthAdjust="spacingAndGlyphs">CR6L-500</text>
<text x="588.8" y="268" font-size="4.5" text-anchor="start" font-weight="bold" fill="#111" transform="rotate(-90 588.8 268)" stroke="#111" stroke-width="0.12" textLength="22.5" lengthAdjust="spacingAndGlyphs">CR6L-600</text>
<path d="M450.4 226.8 L657.9 226.8 L654.9 467.1 L447.4 467.1 Z" fill="none" stroke="#111" stroke-width="1.4"/>
<path d="M462.8 270.2 L463.58 275.12 L464.37 280.05 L465.19 284.97 L466.02 289.89 L466.9 294.81 L467.82 299.74 L468.81 304.66 L469.86 309.58 L470.97 314.5 L472.12 319.43 L473.3 324.35 L474.46 329.27 L475.61 334.19 L476.71 339.12 L477.76 344.04 L478.76 348.96 L479.71 353.88 L480.62 358.81 L481.49 363.73 L482.34 368.65 L483.16 373.57 L483.95 378.5 L484.72 383.42 L485.45 388.34 L486.15 393.26 L486.81 398.19 L487.43 403.11 L488 408.03 L488.53 412.95 L489.02 417.88 L489.47 422.8 L489.89 427.72 L490.27 432.64 L490.62 437.57 L490.95 442.49 L491.26 447.41 L491.56 452.33 L491.84 457.25 L492.12 462.18 L492.4 467.1" fill="none" stroke="#111" stroke-width="1.85" stroke-linejoin="round" stroke-linecap="round"/>
<path d="M474.6 270.2 L475.34 275.12 L476.09 280.05 L476.86 284.97 L477.66 289.89 L478.49 294.81 L479.37 299.74 L480.3 304.66 L481.3 309.58 L482.34 314.5 L483.41 319.43 L484.51 324.35 L485.59 329.27 L486.66 334.19 L487.69 339.12 L488.68 344.04 L489.62 348.96 L490.5 353.88 L491.35 358.81 L492.16 363.73 L492.93 368.65 L493.67 373.57 L494.37 378.5 L495.04 383.42 L495.69 388.34 L496.29 393.26 L496.87 398.19 L497.41 403.11 L497.91 408.03 L498.38 412.95 L498.83 417.88 L499.26 422.8 L499.66 427.72 L500.04 432.64 L500.42 437.57 L500.78 442.49 L501.13 447.41 L501.48 452.33 L501.82 457.25 L502.16 462.18 L502.5 467.1" fill="none" stroke="#111" stroke-width="1.85" stroke-linejoin="round" stroke-linecap="round"/>
<path d="M499.4 270.2 L500.33 275.12 L501.26 280.05 L502.22 284.97 L503.21 289.89 L504.26 294.81 L505.36 299.74 L506.52 304.66 L507.75 309.58 L509.04 314.5 L510.36 319.43 L511.7 324.35 L513.03 329.27 L514.34 334.19 L515.61 339.12 L516.83 344.04 L517.99 348.96 L519.08 353.88 L520.12 358.81 L521.1 363.73 L522.02 368.65 L522.9 373.57 L523.72 378.5 L524.49 383.42 L525.22 388.34 L525.91 393.26 L526.56 398.19 L527.17 403.11 L527.75 408.03 L528.31 412.95 L528.85 417.88 L529.37 422.8 L529.89 427.72 L530.4 432.64 L530.91 437.57 L531.42 442.49 L531.93 447.41 L532.45 452.33 L532.96 457.25 L533.48 462.18 L534 467.1" fill="none" stroke="#111" stroke-width="1.85" stroke-linejoin="round" stroke-linecap="round"/>
<path d="M506.8 270.2 L507.83 275.12 L508.86 280.05 L509.93 284.97 L511.04 289.89 L512.2 294.81 L513.42 299.74 L514.71 304.66 L516.07 309.58 L517.49 314.5 L518.93 319.43 L520.4 324.35 L521.85 329.27 L523.28 334.19 L524.67 339.12 L526.01 344.04 L527.29 348.96 L528.48 353.88 L529.62 358.81 L530.68 363.73 L531.66 368.65 L532.58 373.57 L533.43 378.5 L534.21 383.42 L534.94 388.34 L535.63 393.26 L536.28 398.19 L536.9 403.11 L537.49 408.03 L538.07 412.95 L538.65 417.88 L539.23 422.8 L539.82 427.72 L540.42 432.64 L541.04 437.57 L541.66 442.49 L542.31 447.41 L542.97 452.33 L543.64 457.25 L544.32 462.18 L545 467.1" fill="none" stroke="#111" stroke-width="1.85" stroke-linejoin="round" stroke-linecap="round"/>
<path d="M520.8 270.2 L521.99 275.12 L523.2 280.05 L524.44 284.97 L525.73 289.89 L527.09 294.81 L528.52 299.74 L530.02 304.66 L531.59 309.58 L533.22 314.5 L534.88 319.43 L536.56 324.35 L538.22 329.27 L539.85 334.19 L541.45 339.12 L542.99 344.04 L544.46 348.96 L545.84 353.88 L547.13 358.81 L548.33 363.73 L549.43 368.65 L550.44 373.57 L551.35 378.5 L552.18 383.42 L552.94 388.34 L553.65 393.26 L554.33 398.19 L554.97 403.11 L555.6 408.03 L556.23 412.95 L556.88 417.88 L557.55 422.8 L558.26 427.72 L558.99 432.64 L559.77 437.57 L560.58 442.49 L561.42 447.41 L562.29 452.33 L563.18 457.25 L564.09 462.18 L565 467.1" fill="none" stroke="#111" stroke-width="1.85" stroke-linejoin="round" stroke-linecap="round"/>
<path d="M531.2 270.2 L532.38 275.12 L533.58 280.05 L534.81 284.97 L536.09 289.89 L537.43 294.81 L538.85 299.74 L540.33 304.66 L541.89 309.58 L543.51 314.5 L545.15 319.43 L546.82 324.35 L548.46 329.27 L550.08 334.19 L551.66 339.12 L553.19 344.04 L554.64 348.96 L556.01 353.88 L557.29 358.81 L558.48 363.73 L559.57 368.65 L560.57 373.57 L561.47 378.5 L562.29 383.42 L563.05 388.34 L563.76 393.26 L564.42 398.19 L565.06 403.11 L565.68 408.03 L566.31 412.95 L566.96 417.88 L567.62 422.8 L568.32 427.72 L569.05 432.64 L569.82 437.57 L570.62 442.49 L571.46 447.41 L572.32 452.33 L573.2 457.25 L574.1 462.18 L575 467.1" fill="none" stroke="#111" stroke-width="1.85" stroke-linejoin="round" stroke-linecap="round"/>
<path d="M549 270.2 L550.05 275.12 L551.12 280.05 L552.21 284.97 L553.35 289.89 L554.55 294.81 L555.81 299.74 L557.13 304.66 L558.52 309.58 L559.96 314.5 L561.42 319.43 L562.91 324.35 L564.37 329.27 L565.81 334.19 L567.22 339.12 L568.58 344.04 L569.87 348.96 L571.09 353.88 L572.23 358.81 L573.29 363.73 L574.26 368.65 L575.15 373.57 L575.95 378.5 L576.68 383.42 L577.36 388.34 L577.99 393.26 L578.58 398.19 L579.15 403.11 L579.7 408.03 L580.27 412.95 L580.84 417.88 L581.43 422.8 L582.05 427.72 L582.7 432.64 L583.39 437.57 L584.1 442.49 L584.84 447.41 L585.61 452.33 L586.4 457.25 L587.2 462.18 L588 467.1" fill="none" stroke="#111" stroke-width="1.85" stroke-linejoin="round" stroke-linecap="round"/>
<path d="M553.5 270.2 L554.71 275.12 L555.94 280.05 L557.21 284.97 L558.52 289.89 L559.9 294.81 L561.36 299.74 L562.88 304.66 L564.49 309.58 L566.14 314.5 L567.84 319.43 L569.54 324.35 L571.23 329.27 L572.9 334.19 L574.53 339.12 L576.09 344.04 L577.59 348.96 L578.99 353.88 L580.31 358.81 L581.53 363.73 L582.65 368.65 L583.67 373.57 L584.6 378.5 L585.44 383.42 L586.23 388.34 L586.95 393.26 L587.63 398.19 L588.29 403.11 L588.93 408.03 L589.58 412.95 L590.23 417.88 L590.92 422.8 L591.64 427.72 L592.38 432.64 L593.18 437.57 L594 442.49 L594.86 447.41 L595.75 452.33 L596.65 457.25 L597.57 462.18 L598.5 467.1" fill="none" stroke="#111" stroke-width="1.85" stroke-linejoin="round" stroke-linecap="round"/>
<path d="M559.5 270.2 L560.89 275.12 L562.29 280.05 L563.74 284.97 L565.24 289.89 L566.81 294.81 L568.47 299.74 L570.22 304.66 L572.05 309.58 L573.94 314.5 L575.87 319.43 L577.83 324.35 L579.75 329.27 L581.66 334.19 L583.52 339.12 L585.3 344.04 L587.01 348.96 L588.61 353.88 L590.12 358.81 L591.52 363.73 L592.79 368.65 L593.96 373.57 L595.02 378.5 L595.99 383.42 L596.88 388.34 L597.71 393.26 L598.49 398.19 L599.24 403.11 L599.97 408.03 L600.71 412.95 L601.46 417.88 L602.24 422.8 L603.06 427.72 L603.91 432.64 L604.82 437.57 L605.76 442.49 L606.74 447.41 L607.75 452.33 L608.79 457.25 L609.84 462.18 L610.9 467.1" fill="none" stroke="#111" stroke-width="1.85" stroke-linejoin="round" stroke-linecap="round"/>
<path d="M569.2 270.2 L570.51 275.12 L571.82 280.05 L573.19 284.97 L574.6 289.89 L576.09 294.81 L577.65 299.74 L579.29 304.66 L581.02 309.58 L582.8 314.5 L584.62 319.43 L586.46 324.35 L588.27 329.27 L590.07 334.19 L591.81 339.12 L593.5 344.04 L595.11 348.96 L596.62 353.88 L598.03 358.81 L599.35 363.73 L600.55 368.65 L601.65 373.57 L602.65 378.5 L603.56 383.42 L604.4 388.34 L605.18 393.26 L605.91 398.19 L606.62 403.11 L607.31 408.03 L608 412.95 L608.71 417.88 L609.45 422.8 L610.22 427.72 L611.02 432.64 L611.87 437.57 L612.76 442.49 L613.68 447.41 L614.64 452.33 L615.61 457.25 L616.6 462.18 L617.6 467.1" fill="none" stroke="#111" stroke-width="1.85" stroke-linejoin="round" stroke-linecap="round"/>
<path d="M574.5 270.2 L575.79 275.12 L577.1 280.05 L578.46 284.97 L579.86 289.89 L581.33 294.81 L582.88 299.74 L584.51 304.66 L586.22 309.58 L587.99 314.5 L589.79 319.43 L591.61 324.35 L593.41 329.27 L595.19 334.19 L596.93 339.12 L598.6 344.04 L600.19 348.96 L601.69 353.88 L603.09 358.81 L604.4 363.73 L605.59 368.65 L606.68 373.57 L607.67 378.5 L608.57 383.42 L609.41 388.34 L610.18 393.26 L610.91 398.19 L611.61 403.11 L612.29 408.03 L612.98 412.95 L613.68 417.88 L614.41 422.8 L615.18 427.72 L615.98 432.64 L616.82 437.57 L617.7 442.49 L618.62 447.41 L619.56 452.33 L620.53 457.25 L621.51 462.18 L622.5 467.1" fill="none" stroke="#111" stroke-width="1.85" stroke-linejoin="round" stroke-linecap="round"/>
<path d="M580.5 270.2 L581.9 275.12 L583.31 280.05 L584.77 284.97 L586.28 289.89 L587.87 294.81 L589.54 299.74 L591.3 304.66 L593.15 309.58 L595.05 314.5 L597 319.43 L598.97 324.35 L600.91 329.27 L602.83 334.19 L604.7 339.12 L606.5 344.04 L608.23 348.96 L609.84 353.88 L611.36 358.81 L612.76 363.73 L614.05 368.65 L615.23 373.57 L616.3 378.5 L617.27 383.42 L618.17 388.34 L619 393.26 L619.79 398.19 L620.55 403.11 L621.28 408.03 L622.03 412.95 L622.79 417.88 L623.57 422.8 L624.4 427.72 L625.26 432.64 L626.17 437.57 L627.12 442.49 L628.11 447.41 L629.13 452.33 L630.17 457.25 L631.23 462.18 L632.3 467.1" fill="none" stroke="#111" stroke-width="1.85" stroke-linejoin="round" stroke-linecap="round"/>
<path d="M586.5 270.2 L587.96 275.12 L589.43 280.05 L590.95 284.97 L592.53 289.89 L594.18 294.81 L595.93 299.74 L597.76 304.66 L599.69 309.58 L601.67 314.5 L603.7 319.43 L605.75 324.35 L607.78 329.27 L609.78 334.19 L611.73 339.12 L613.61 344.04 L615.4 348.96 L617.09 353.88 L618.67 358.81 L620.14 363.73 L621.48 368.65 L622.71 373.57 L623.82 378.5 L624.83 383.42 L625.77 388.34 L626.64 393.26 L627.46 398.19 L628.25 403.11 L629.01 408.03 L629.79 412.95 L630.58 417.88 L631.4 422.8 L632.26 427.72 L633.16 432.64 L634.11 437.57 L635.1 442.49 L636.13 447.41 L637.19 452.33 L638.28 457.25 L639.39 462.18 L640.5 467.1" fill="none" stroke="#111" stroke-width="1.85" stroke-linejoin="round" stroke-linecap="round"/>
<text x="447.5" y="228.8" font-size="5.5" text-anchor="end" font-weight="bold" fill="#111">120</text>
<text x="447.44" y="233.93" font-size="5.5" text-anchor="end" font-weight="bold" fill="#111">90</text>
<text x="447.35" y="241.15" font-size="5.5" text-anchor="end" font-weight="bold" fill="#111">60</text>
<text x="447.26" y="248.37" font-size="5.5" text-anchor="end" font-weight="bold" fill="#111">40</text>
<text x="447.19" y="253.5" font-size="5.5" text-anchor="end" font-weight="bold" fill="#111">30</text>
<text x="447.1" y="260.72" font-size="5.5" text-anchor="end" font-weight="bold" fill="#111">20</text>
<text x="446.95" y="273.07" font-size="5.5" text-anchor="end" font-weight="bold" fill="#111">10</text>
<text x="446.9" y="277.05" font-size="5.5" text-anchor="end" font-weight="bold" fill="#111">8</text>
<text x="446.83" y="282.18" font-size="5.5" text-anchor="end" font-weight="bold" fill="#111">6</text>
<text x="446.74" y="289.4" font-size="5.5" text-anchor="end" font-weight="bold" fill="#111">4</text>
<text x="446.59" y="301.75" font-size="5.5" text-anchor="end" font-weight="bold" fill="#111">2</text>
<text x="446.44" y="314.1" font-size="5.5" text-anchor="end" font-weight="bold" fill="#111">1</text>
<text x="446.34" y="321.32" font-size="5.5" text-anchor="end" font-weight="bold" fill="#111">40</text>
<text x="446.19" y="333.67" font-size="5.5" text-anchor="end" font-weight="bold" fill="#111">20</text>
<text x="446.04" y="346.02" font-size="5.5" text-anchor="end" font-weight="bold" fill="#111">10</text>
<text x="445.99" y="350" font-size="5.5" text-anchor="end" font-weight="bold" fill="#111">8</text>
<text x="445.92" y="355.12" font-size="5.5" text-anchor="end" font-weight="bold" fill="#111">6</text>
<text x="445.83" y="362.35" font-size="5.5" text-anchor="end" font-weight="bold" fill="#111">4</text>
<text x="445.68" y="374.7" font-size="5.5" text-anchor="end" font-weight="bold" fill="#111">2</text>
<text x="445.52" y="387.05" font-size="5.5" text-anchor="end" font-weight="bold" fill="#111">1</text>
<text x="445.47" y="391.02" font-size="5.5" text-anchor="end" font-weight="bold" fill="#111">0.8</text>
<text x="445.41" y="396.15" font-size="5.5" text-anchor="end" font-weight="bold" fill="#111">0.6</text>
<text x="445.32" y="403.37" font-size="5.5" text-anchor="end" font-weight="bold" fill="#111">0.4</text>
<text x="445.17" y="415.72" font-size="5.5" text-anchor="end" font-weight="bold" fill="#111">0.2</text>
<text x="445.01" y="428.07" font-size="5.5" text-anchor="end" font-weight="bold" fill="#111">0.1</text>
<text x="444.96" y="432.05" font-size="5.5" text-anchor="end" font-weight="bold" fill="#111">0.08</text>
<text x="444.9" y="437.18" font-size="5.5" text-anchor="end" font-weight="bold" fill="#111">0.06</text>
<text x="444.81" y="444.4" font-size="5.5" text-anchor="end" font-weight="bold" fill="#111">0.04</text>
<text x="444.65" y="456.75" font-size="5.5" text-anchor="end" font-weight="bold" fill="#111">0.02</text>
<text x="444.5" y="469.1" font-size="5.5" text-anchor="end" font-weight="bold" fill="#111">0.01</text>
<text x="447.4" y="473.5" font-size="5.3" text-anchor="middle" font-weight="bold" fill="#111">30</text>
<text x="457.67" y="473.5" font-size="5.3" text-anchor="middle" font-weight="bold" fill="#111">40</text>
<text x="465.64" y="473.5" font-size="5.3" text-anchor="middle" font-weight="bold" fill="#111">50</text>
<text x="472.14" y="473.5" font-size="5.3" text-anchor="middle" font-weight="bold" fill="#111">60</text>
<text x="482.41" y="473.5" font-size="5.3" text-anchor="middle" font-weight="bold" fill="#111">80</text>
<text x="490.38" y="473.5" font-size="5.3" text-anchor="middle" font-weight="bold" fill="#111">100</text>
<text x="515.13" y="473.5" font-size="5.3" text-anchor="middle" font-weight="bold" fill="#111">200</text>
<text x="529.6" y="473.5" font-size="5.3" text-anchor="middle" font-weight="bold" fill="#111">300</text>
<text x="547.84" y="473.5" font-size="5.3" text-anchor="middle" font-weight="bold" fill="#111">500</text>
<text x="572.58" y="473.5" font-size="5.3" text-anchor="middle" font-weight="bold" fill="#111">1000</text>
<text x="597.33" y="473.5" font-size="5.3" text-anchor="middle" font-weight="bold" fill="#111">2000</text>
<text x="611.8" y="473.5" font-size="5.3" text-anchor="middle" font-weight="bold" fill="#111">3000</text>
<text x="630.04" y="473.5" font-size="5.3" text-anchor="middle" font-weight="bold" fill="#111">5000</text>
<text x="654.78" y="473.5" font-size="5.3" text-anchor="middle" font-weight="bold" fill="#111">10000</text>
<line x1="423.7" y1="226.3" x2="433.2" y2="226.3" stroke="#444" stroke-width="0.8"/>
<line x1="423.7" y1="310.5" x2="433.2" y2="310.5" stroke="#444" stroke-width="0.8"/>
<line x1="423.7" y1="467.1" x2="433.2" y2="467.1" stroke="#444" stroke-width="0.8"/>
<line x1="428.2" y1="258.5" x2="428.2" y2="230.5" stroke="#1a1a1a" stroke-width="0.7"/>
<path d="M428.2 227.3 L426.9 231.3 L429.5 231.3 Z" fill="#111"/>
<line x1="428.2" y1="284.5" x2="428.2" y2="306.5" stroke="#555" stroke-width="0.7"/>
<path d="M428.2 310 L426.9 306 L429.5 306 Z" fill="#111"/>
<path d="M428.2 311 L426.9 315 L429.5 315 Z" fill="#111"/>
<line x1="428.2" y1="314.5" x2="428.2" y2="357.5" stroke="#555" stroke-width="0.7"/>
<line x1="428.2" y1="386" x2="428.2" y2="463.1" stroke="#666" stroke-width="0.7" stroke-dasharray="6 1.5"/>
<path d="M428.2 466.6 L426.9 462.6 L429.5 462.6 Z" fill="#111"/>
<text x="430.8" y="271.5" font-size="7.2" text-anchor="middle" font-weight="normal" fill="#111" transform="rotate(-90 430.8 271.5)" stroke="#111" stroke-width="0.22">Minute</text>
<text x="430.8" y="371.5" font-size="7.2" text-anchor="middle" font-weight="normal" fill="#111" transform="rotate(-90 430.8 371.5)" stroke="#111" stroke-width="0.22">Second</text>
<text x="417.2" y="323" font-size="9" text-anchor="middle" font-weight="normal" fill="#111" transform="rotate(-90 417.2 323)" stroke="#111" stroke-width="0.22">Time</text>
<line x1="414" y1="303" x2="414" y2="284" stroke="#1a1a1a" stroke-width="0.9"/>
<path d="M414 280 L412.2 285 L415.8 285 Z" fill="#111"/>
<text x="521.5" y="488.8" font-size="8.3" text-anchor="start" font-weight="normal" fill="#111" stroke="#111" stroke-width="0.22">Current (A)</text>
<line x1="566.5" y1="485.6" x2="594.6" y2="485.6" stroke="#1a1a1a" stroke-width="0.9"/>
<path d="M599 485.6 L593.5 483.8 L593.5 487.4 Z" fill="#111"/>
<line x1="80.2" y1="535.43" x2="289.5" y2="535.43" stroke="#1a1a1a" stroke-width="1.05"/>
<line x1="80.2" y1="542.67" x2="289.5" y2="542.67" stroke="#1a1a1a" stroke-width="1.05" stroke-dasharray="9 2"/>
<line x1="80.2" y1="549.91" x2="289.5" y2="549.91" stroke="#1a1a1a" stroke-width="1.05" stroke-dasharray="9 2"/>
<line x1="80.2" y1="555.04" x2="289.5" y2="555.04" stroke="#1a1a1a" stroke-width="1.05"/>
<line x1="80.2" y1="562.28" x2="289.5" y2="562.28" stroke="#1a1a1a" stroke-width="1.05" stroke-dasharray="9 2"/>
<line x1="80.2" y1="574.65" x2="289.5" y2="574.65" stroke="#1a1a1a" stroke-width="1.35"/>
<line x1="80.2" y1="578.63" x2="289.5" y2="578.63" stroke="#1a1a1a" stroke-width="1.05"/>
<line x1="80.2" y1="583.76" x2="289.5" y2="583.76" stroke="#1a1a1a" stroke-width="1.05"/>
<line x1="80.2" y1="591" x2="289.5" y2="591" stroke="#1a1a1a" stroke-width="1.05"/>
<line x1="80.2" y1="603.37" x2="289.5" y2="603.37" stroke="#1a1a1a" stroke-width="1.05"/>
<line x1="80.2" y1="615.74" x2="289.5" y2="615.74" stroke="#1a1a1a" stroke-width="1.35"/>
<line x1="80.2" y1="622.98" x2="289.5" y2="622.98" stroke="#1a1a1a" stroke-width="1.05"/>
<line x1="80.2" y1="635.35" x2="289.5" y2="635.35" stroke="#1a1a1a" stroke-width="1.05"/>
<line x1="80.2" y1="647.72" x2="289.5" y2="647.72" stroke="#1a1a1a" stroke-width="1.35"/>
<line x1="80.2" y1="651.7" x2="289.5" y2="651.7" stroke="#1a1a1a" stroke-width="1.05"/>
<line x1="80.2" y1="656.84" x2="289.5" y2="656.84" stroke="#1a1a1a" stroke-width="1.05"/>
<line x1="80.2" y1="664.07" x2="289.5" y2="664.07" stroke="#1a1a1a" stroke-width="1.05"/>
<line x1="80.2" y1="676.44" x2="289.5" y2="676.44" stroke="#1a1a1a" stroke-width="1.05"/>
<line x1="80.2" y1="688.81" x2="289.5" y2="688.81" stroke="#1a1a1a" stroke-width="1.35"/>
<line x1="80.2" y1="692.79" x2="289.5" y2="692.79" stroke="#1a1a1a" stroke-width="1.05"/>
<line x1="80.2" y1="697.93" x2="289.5" y2="697.93" stroke="#1a1a1a" stroke-width="1.05"/>
<line x1="80.2" y1="705.17" x2="289.5" y2="705.17" stroke="#1a1a1a" stroke-width="1.05"/>
<line x1="80.2" y1="717.54" x2="289.5" y2="717.54" stroke="#1a1a1a" stroke-width="1.05"/>
<line x1="80.2" y1="729.91" x2="289.5" y2="729.91" stroke="#1a1a1a" stroke-width="1.35"/>
<line x1="80.2" y1="733.89" x2="289.5" y2="733.89" stroke="#1a1a1a" stroke-width="1.05"/>
<line x1="80.2" y1="739.02" x2="289.5" y2="739.02" stroke="#1a1a1a" stroke-width="1.05"/>
<line x1="80.2" y1="746.26" x2="289.5" y2="746.26" stroke="#1a1a1a" stroke-width="1.05"/>
<line x1="80.2" y1="758.63" x2="289.5" y2="758.63" stroke="#1a1a1a" stroke-width="1.05"/>
<line x1="94.59" y1="530.3" x2="94.59" y2="771" stroke="#1a1a1a" stroke-width="0.85"/>
<line x1="104.79" y1="530.3" x2="104.79" y2="771" stroke="#1a1a1a" stroke-width="0.85"/>
<line x1="112.71" y1="530.3" x2="112.71" y2="771" stroke="#1a1a1a" stroke-width="0.85"/>
<line x1="119.18" y1="530.3" x2="119.18" y2="771" stroke="#1a1a1a" stroke-width="0.85"/>
<line x1="124.65" y1="530.3" x2="124.65" y2="771" stroke="#1a1a1a" stroke-width="0.85"/>
<line x1="129.39" y1="530.3" x2="129.39" y2="771" stroke="#1a1a1a" stroke-width="0.85"/>
<line x1="133.57" y1="530.3" x2="133.57" y2="771" stroke="#1a1a1a" stroke-width="0.85"/>
<line x1="137.31" y1="530.3" x2="137.31" y2="771" stroke="#1a1a1a" stroke-width="0.85"/>
<line x1="161.9" y1="530.3" x2="161.9" y2="771" stroke="#1a1a1a" stroke-width="0.85"/>
<line x1="176.29" y1="530.3" x2="176.29" y2="771" stroke="#1a1a1a" stroke-width="0.85"/>
<line x1="194.41" y1="530.3" x2="194.41" y2="771" stroke="#1a1a1a" stroke-width="0.85"/>
<line x1="219.01" y1="530.3" x2="219.01" y2="771" stroke="#1a1a1a" stroke-width="0.85"/>
<line x1="243.6" y1="530.3" x2="243.6" y2="771" stroke="#1a1a1a" stroke-width="0.85"/>
<line x1="257.99" y1="530.3" x2="257.99" y2="771" stroke="#1a1a1a" stroke-width="0.85"/>
<line x1="276.11" y1="530.3" x2="276.11" y2="771" stroke="#1a1a1a" stroke-width="0.85"/>
<rect x="98.2" y="580.5" width="4.6" height="31.5" fill="#fff"/>
<rect x="121.5" y="580.5" width="4.6" height="31.5" fill="#fff"/>
<rect x="134" y="580.5" width="4.6" height="31.5" fill="#fff"/>
<rect x="149" y="580.5" width="4.6" height="31.5" fill="#fff"/>
<rect x="162.1" y="580.5" width="4.6" height="31.5" fill="#fff"/>
<rect x="170.8" y="580.5" width="4.6" height="31.5" fill="#fff"/>
<rect x="181.1" y="576" width="4.6" height="28" fill="#fff"/>
<rect x="186.29" y="576" width="4.6" height="28" fill="#fff"/>
<rect x="191.48" y="576" width="4.6" height="28" fill="#fff"/>
<rect x="196.67" y="576" width="4.6" height="28" fill="#fff"/>
<rect x="201.86" y="576" width="4.6" height="28" fill="#fff"/>
<rect x="207.05" y="576" width="4.6" height="28" fill="#fff"/>
<rect x="212.24" y="576" width="4.6" height="28" fill="#fff"/>
<rect x="217.43" y="576" width="4.6" height="28" fill="#fff"/>
<rect x="222.62" y="576" width="4.6" height="28" fill="#fff"/>
<rect x="227.81" y="576" width="4.6" height="28" fill="#fff"/>
<rect x="233" y="576" width="4.6" height="28" fill="#fff"/>
<rect x="238.19" y="576" width="4.6" height="28" fill="#fff"/>
<rect x="243.38" y="576" width="4.6" height="28" fill="#fff"/>
<rect x="248.57" y="576" width="4.6" height="28" fill="#fff"/>
<rect x="253.76" y="576" width="4.6" height="28" fill="#fff"/>
<text x="102.1" y="611.5" font-size="4.5" text-anchor="start" font-weight="bold" fill="#111" transform="rotate(-90 102.1 611.5)" stroke="#111" stroke-width="0.12" textLength="29.5" lengthAdjust="spacingAndGlyphs">CR2L-S-10</text>
<text x="125.4" y="611.5" font-size="4.5" text-anchor="start" font-weight="bold" fill="#111" transform="rotate(-90 125.4 611.5)" stroke="#111" stroke-width="0.12" textLength="29.5" lengthAdjust="spacingAndGlyphs">CR2L-S-20</text>
<text x="137.9" y="611.5" font-size="4.5" text-anchor="start" font-weight="bold" fill="#111" transform="rotate(-90 137.9 611.5)" stroke="#111" stroke-width="0.12" textLength="29.5" lengthAdjust="spacingAndGlyphs">CR2L(S)-30</text>
<text x="152.9" y="611.5" font-size="4.5" text-anchor="start" font-weight="bold" fill="#111" transform="rotate(-90 152.9 611.5)" stroke="#111" stroke-width="0.12" textLength="29.5" lengthAdjust="spacingAndGlyphs">CR2L(S)-50</text>
<text x="166" y="611.5" font-size="4.5" text-anchor="start" font-weight="bold" fill="#111" transform="rotate(-90 166 611.5)" stroke="#111" stroke-width="0.12" textLength="29.5" lengthAdjust="spacingAndGlyphs">CR2L(S)-75</text>
<text x="174.7" y="611.5" font-size="4.5" text-anchor="start" font-weight="bold" fill="#111" transform="rotate(-90 174.7 611.5)" stroke="#111" stroke-width="0.12" textLength="29.5" lengthAdjust="spacingAndGlyphs">CR2L(S)-100</text>
<text x="185" y="603.5" font-size="4.5" text-anchor="start" font-weight="bold" fill="#111" transform="rotate(-90 185 603.5)" stroke="#111" stroke-width="0.12" textLength="26" lengthAdjust="spacingAndGlyphs">CR2L-125</text>
<text x="190.19" y="603.5" font-size="4.5" text-anchor="start" font-weight="bold" fill="#111" transform="rotate(-90 190.19 603.5)" stroke="#111" stroke-width="0.12" textLength="26" lengthAdjust="spacingAndGlyphs">CR2L-140</text>
<text x="195.38" y="603.5" font-size="4.5" text-anchor="start" font-weight="bold" fill="#111" transform="rotate(-90 195.38 603.5)" stroke="#111" stroke-width="0.12" textLength="26" lengthAdjust="spacingAndGlyphs">CR2L-150</text>
<text x="200.57" y="603.5" font-size="4.5" text-anchor="start" font-weight="bold" fill="#111" transform="rotate(-90 200.57 603.5)" stroke="#111" stroke-width="0.12" textLength="26" lengthAdjust="spacingAndGlyphs">CR2L-175</text>
<text x="205.76" y="603.5" font-size="4.5" text-anchor="start" font-weight="bold" fill="#111" transform="rotate(-90 205.76 603.5)" stroke="#111" stroke-width="0.12" textLength="26" lengthAdjust="spacingAndGlyphs">CR2L-200</text>
<text x="210.95" y="603.5" font-size="4.5" text-anchor="start" font-weight="bold" fill="#111" transform="rotate(-90 210.95 603.5)" stroke="#111" stroke-width="0.12" textLength="26" lengthAdjust="spacingAndGlyphs">CR2L-225</text>
<text x="216.14" y="603.5" font-size="4.5" text-anchor="start" font-weight="bold" fill="#111" transform="rotate(-90 216.14 603.5)" stroke="#111" stroke-width="0.12" textLength="26" lengthAdjust="spacingAndGlyphs">CR2L-250</text>
<text x="221.33" y="603.5" font-size="4.5" text-anchor="start" font-weight="bold" fill="#111" transform="rotate(-90 221.33 603.5)" stroke="#111" stroke-width="0.12" textLength="26" lengthAdjust="spacingAndGlyphs">CR2L-300</text>
<text x="226.52" y="603.5" font-size="4.5" text-anchor="start" font-weight="bold" fill="#111" transform="rotate(-90 226.52 603.5)" stroke="#111" stroke-width="0.12" textLength="26" lengthAdjust="spacingAndGlyphs">CR2L-325</text>
<text x="231.71" y="603.5" font-size="4.5" text-anchor="start" font-weight="bold" fill="#111" transform="rotate(-90 231.71 603.5)" stroke="#111" stroke-width="0.12" textLength="26" lengthAdjust="spacingAndGlyphs">CR2L-350</text>
<text x="236.9" y="603.5" font-size="4.5" text-anchor="start" font-weight="bold" fill="#111" transform="rotate(-90 236.9 603.5)" stroke="#111" stroke-width="0.12" textLength="26" lengthAdjust="spacingAndGlyphs">CR2L-400</text>
<text x="242.09" y="603.5" font-size="4.5" text-anchor="start" font-weight="bold" fill="#111" transform="rotate(-90 242.09 603.5)" stroke="#111" stroke-width="0.12" textLength="26" lengthAdjust="spacingAndGlyphs">CR2L-450</text>
<text x="247.28" y="603.5" font-size="4.5" text-anchor="start" font-weight="bold" fill="#111" transform="rotate(-90 247.28 603.5)" stroke="#111" stroke-width="0.12" textLength="26" lengthAdjust="spacingAndGlyphs">CR2L-500</text>
<text x="252.47" y="603.5" font-size="4.5" text-anchor="start" font-weight="bold" fill="#111" transform="rotate(-90 252.47 603.5)" stroke="#111" stroke-width="0.12" textLength="26" lengthAdjust="spacingAndGlyphs">CR2L-550</text>
<text x="257.66" y="603.5" font-size="4.5" text-anchor="start" font-weight="bold" fill="#111" transform="rotate(-90 257.66 603.5)" stroke="#111" stroke-width="0.12" textLength="26" lengthAdjust="spacingAndGlyphs">CR2L-600</text>
<line x1="182.6" y1="603.5" x2="179.3" y2="615.5" stroke="#111" stroke-width="1.1"/>
<line x1="187.79" y1="603.5" x2="182.3" y2="615.5" stroke="#111" stroke-width="1.1"/>
<line x1="192.98" y1="603.5" x2="186.3" y2="615.5" stroke="#111" stroke-width="1.1"/>
<line x1="198.17" y1="603.5" x2="192.3" y2="615.5" stroke="#111" stroke-width="1.1"/>
<line x1="203.36" y1="603.5" x2="196.3" y2="615.5" stroke="#111" stroke-width="1.1"/>
<line x1="208.55" y1="603.5" x2="203.8" y2="615.5" stroke="#111" stroke-width="1.1"/>
<line x1="213.74" y1="603.5" x2="210.3" y2="615.5" stroke="#111" stroke-width="1.1"/>
<line x1="218.93" y1="603.5" x2="210.3" y2="615.5" stroke="#111" stroke-width="1.1"/>
<line x1="224.12" y1="603.5" x2="218.8" y2="615.5" stroke="#111" stroke-width="1.1"/>
<line x1="229.31" y1="603.5" x2="222.7" y2="615.5" stroke="#111" stroke-width="1.1"/>
<line x1="234.5" y1="603.5" x2="227.2" y2="615.5" stroke="#111" stroke-width="1.1"/>
<line x1="239.69" y1="603.5" x2="238.3" y2="615.5" stroke="#111" stroke-width="1.1"/>
<line x1="244.88" y1="603.5" x2="241.05" y2="615.5" stroke="#111" stroke-width="1.1"/>
<line x1="250.07" y1="603.5" x2="244.05" y2="615.5" stroke="#111" stroke-width="1.1"/>
<line x1="255.26" y1="603.5" x2="248.3" y2="615.5" stroke="#111" stroke-width="1.1"/>
<path d="M80.2 530.3 L289.5 530.3 L289.5 771 L80.2 771 Z" fill="none" stroke="#111" stroke-width="1.4"/>
<path d="M101.9 615.5 L102.62 619.39 L103.33 623.27 L104.05 627.16 L104.77 631.05 L105.49 634.94 L106.21 638.83 L106.93 642.71 L107.66 646.6 L108.4 650.49 L109.15 654.38 L109.9 658.26 L110.66 662.15 L111.44 666.04 L112.22 669.92 L113.02 673.81 L113.82 677.7 L114.63 681.59 L115.46 685.48 L116.29 689.36 L117.13 693.25 L117.98 697.14 L118.83 701.02 L119.67 704.91 L120.51 708.8 L121.33 712.69 L122.12 716.58 L122.88 720.46 L123.59 724.35 L124.26 728.24 L124.9 732.12 L125.49 736.01 L126.05 739.9 L126.58 743.79 L127.09 747.67 L127.59 751.56 L128.08 755.45 L128.56 759.34 L129.04 763.23 L129.52 767.11 L130 771" fill="none" stroke="#111" stroke-width="1.85" stroke-linejoin="round" stroke-linecap="round"/>
<path d="M124.4 615.5 L125.05 619.39 L125.7 623.27 L126.36 627.16 L127.01 631.05 L127.67 634.94 L128.33 638.83 L128.98 642.71 L129.65 646.6 L130.32 650.49 L131 654.38 L131.69 658.26 L132.38 662.15 L133.09 666.04 L133.8 669.92 L134.53 673.81 L135.26 677.7 L136 681.59 L136.75 685.48 L137.51 689.36 L138.28 693.25 L139.05 697.14 L139.82 701.02 L140.59 704.91 L141.36 708.8 L142.1 712.69 L142.82 716.58 L143.51 720.46 L144.16 724.35 L144.77 728.24 L145.35 732.12 L145.89 736.01 L146.4 739.9 L146.89 743.79 L147.35 747.67 L147.8 751.56 L148.25 755.45 L148.69 759.34 L149.13 763.23 L149.56 767.11 L150 771" fill="none" stroke="#111" stroke-width="1.85" stroke-linejoin="round" stroke-linecap="round"/>
<path d="M137.25 615.5 L137.96 619.39 L138.66 623.27 L139.37 627.16 L140.08 631.05 L140.79 634.94 L141.51 638.83 L142.22 642.71 L142.94 646.6 L143.67 650.49 L144.41 654.38 L145.15 658.26 L145.9 662.15 L146.67 666.04 L147.44 669.92 L148.23 673.81 L149.02 677.7 L149.82 681.59 L150.64 685.48 L151.46 689.36 L152.29 693.25 L153.13 697.14 L153.97 701.02 L154.8 704.91 L155.63 708.8 L156.44 712.69 L157.22 716.58 L157.97 720.46 L158.67 724.35 L159.34 728.24 L159.96 732.12 L160.55 736.01 L161.1 739.9 L161.62 743.79 L162.13 747.67 L162.62 751.56 L163.1 755.45 L163.58 759.34 L164.05 763.23 L164.53 767.11 L165 771" fill="none" stroke="#111" stroke-width="1.85" stroke-linejoin="round" stroke-linecap="round"/>
<path d="M151.9 615.5 L152.57 619.39 L153.23 623.27 L153.9 627.16 L154.56 631.05 L155.23 634.94 L155.9 638.83 L156.57 642.71 L157.25 646.6 L157.94 650.49 L158.63 654.38 L159.33 658.26 L160.04 662.15 L160.76 666.04 L161.49 669.92 L162.23 673.81 L162.97 677.7 L163.73 681.59 L164.49 685.48 L165.27 689.36 L166.05 693.25 L166.84 697.14 L167.62 701.02 L168.41 704.91 L169.19 708.8 L169.95 712.69 L170.68 716.58 L171.38 720.46 L172.05 724.35 L172.67 728.24 L173.26 732.12 L173.81 736.01 L174.33 739.9 L174.83 743.79 L175.3 747.67 L175.76 751.56 L176.22 755.45 L176.66 759.34 L177.11 763.23 L177.56 767.11 L178 771" fill="none" stroke="#111" stroke-width="1.85" stroke-linejoin="round" stroke-linecap="round"/>
<path d="M165 615.5 L165.71 619.39 L166.43 623.27 L167.14 627.16 L167.86 631.05 L168.58 634.94 L169.29 638.83 L170.01 642.71 L170.74 646.6 L171.48 650.49 L172.22 654.38 L172.97 658.26 L173.73 662.15 L174.5 666.04 L175.29 669.92 L176.08 673.81 L176.88 677.7 L177.69 681.59 L178.51 685.48 L179.34 689.36 L180.18 693.25 L181.02 697.14 L181.87 701.02 L182.71 704.91 L183.55 708.8 L184.36 712.69 L185.15 716.58 L185.9 720.46 L186.61 724.35 L187.28 728.24 L187.91 732.12 L188.51 736.01 L189.07 739.9 L189.59 743.79 L190.11 747.67 L190.6 751.56 L191.09 755.45 L191.57 759.34 L192.04 763.23 L192.52 767.11 L193 771" fill="none" stroke="#111" stroke-width="1.85" stroke-linejoin="round" stroke-linecap="round"/>
<path d="M174 615.5 L174.67 619.39 L175.33 623.27 L176 627.16 L176.66 631.05 L177.33 634.94 L178 638.83 L178.67 642.71 L179.35 646.6 L180.04 650.49 L180.73 654.38 L181.43 658.26 L182.14 662.15 L182.86 666.04 L183.59 669.92 L184.33 673.81 L185.07 677.7 L185.83 681.59 L186.59 685.48 L187.37 689.36 L188.15 693.25 L188.94 697.14 L189.72 701.02 L190.51 704.91 L191.29 708.8 L192.05 712.69 L192.78 716.58 L193.48 720.46 L194.15 724.35 L194.77 728.24 L195.36 732.12 L195.91 736.01 L196.43 739.9 L196.93 743.79 L197.4 747.67 L197.86 751.56 L198.32 755.45 L198.76 759.34 L199.21 763.23 L199.66 767.11 L200.1 771" fill="none" stroke="#111" stroke-width="1.85" stroke-linejoin="round" stroke-linecap="round"/>
<path d="M179 615.5 L180.16 619.39 L181.31 623.27 L182.47 627.16 L183.63 631.05 L184.8 634.94 L185.97 638.83 L187.16 642.71 L188.38 646.6 L189.62 650.49 L190.91 654.38 L192.24 658.26 L193.58 662.15 L194.95 666.04 L196.32 669.92 L197.66 673.81 L198.96 677.7 L200.18 681.59 L201.33 685.48 L202.39 689.36 L203.35 693.25 L204.24 697.14 L205.03 701.02 L205.75 704.91 L206.42 708.8 L207.04 712.69 L207.62 716.58 L208.19 720.46 L208.73 724.35 L209.28 728.24 L209.82 732.12 L210.35 736.01 L210.88 739.9 L211.4 743.79 L211.91 747.67 L212.4 751.56 L212.88 755.45 L213.35 759.34 L213.81 763.23 L214.26 767.11 L214.7 771" fill="none" stroke="#111" stroke-width="1.85" stroke-linejoin="round" stroke-linecap="round"/>
<path d="M182 615.5 L183.17 619.39 L184.34 623.27 L185.51 627.16 L186.69 631.05 L187.86 634.94 L189.05 638.83 L190.25 642.71 L191.48 646.6 L192.74 650.49 L194.04 654.38 L195.38 658.26 L196.75 662.15 L198.13 666.04 L199.51 669.92 L200.87 673.81 L202.18 677.7 L203.42 681.59 L204.58 685.48 L205.65 689.36 L206.63 693.25 L207.52 697.14 L208.32 701.02 L209.05 704.91 L209.72 708.8 L210.35 712.69 L210.94 716.58 L211.51 720.46 L212.07 724.35 L212.62 728.24 L213.16 732.12 L213.71 736.01 L214.24 739.9 L214.77 743.79 L215.28 747.67 L215.78 751.56 L216.26 755.45 L216.74 759.34 L217.2 763.23 L217.65 767.11 L218.1 771" fill="none" stroke="#111" stroke-width="1.85" stroke-linejoin="round" stroke-linecap="round"/>
<path d="M186 615.5 L187.19 619.39 L188.37 623.27 L189.56 627.16 L190.75 631.05 L191.94 634.94 L193.15 638.83 L194.36 642.71 L195.61 646.6 L196.89 650.49 L198.21 654.38 L199.57 658.26 L200.95 662.15 L202.35 666.04 L203.76 669.92 L205.13 673.81 L206.46 677.7 L207.71 681.59 L208.89 685.48 L209.98 689.36 L210.97 693.25 L211.87 697.14 L212.69 701.02 L213.42 704.91 L214.11 708.8 L214.74 712.69 L215.35 716.58 L215.92 720.46 L216.48 724.35 L217.04 728.24 L217.6 732.12 L218.14 736.01 L218.69 739.9 L219.22 743.79 L219.74 747.67 L220.25 751.56 L220.74 755.45 L221.22 759.34 L221.68 763.23 L222.14 767.11 L222.6 771" fill="none" stroke="#111" stroke-width="1.85" stroke-linejoin="round" stroke-linecap="round"/>
<path d="M192 615.5 L193.17 619.39 L194.35 623.27 L195.52 627.16 L196.7 631.05 L197.88 634.94 L199.07 638.83 L200.27 642.71 L201.51 646.6 L202.77 650.49 L204.08 654.38 L205.42 658.26 L206.79 662.15 L208.17 666.04 L209.56 669.92 L210.92 673.81 L212.24 677.7 L213.47 681.59 L214.64 685.48 L215.71 689.36 L216.7 693.25 L217.59 697.14 L218.4 701.02 L219.13 704.91 L219.8 708.8 L220.43 712.69 L221.02 716.58 L221.6 720.46 L222.15 724.35 L222.7 728.24 L223.25 732.12 L223.79 736.01 L224.33 739.9 L224.86 743.79 L225.37 747.67 L225.87 751.56 L226.36 755.45 L226.83 759.34 L227.29 763.23 L227.75 767.11 L228.2 771" fill="none" stroke="#111" stroke-width="1.85" stroke-linejoin="round" stroke-linecap="round"/>
<path d="M196 615.5 L197.23 619.39 L198.45 623.27 L199.68 627.16 L200.91 631.05 L202.14 634.94 L203.38 638.83 L204.64 642.71 L205.93 646.6 L207.25 650.49 L208.61 654.38 L210.01 658.26 L211.44 662.15 L212.89 666.04 L214.34 669.92 L215.76 673.81 L217.13 677.7 L218.42 681.59 L219.64 685.48 L220.76 689.36 L221.79 693.25 L222.72 697.14 L223.56 701.02 L224.32 704.91 L225.03 708.8 L225.69 712.69 L226.31 716.58 L226.9 720.46 L227.48 724.35 L228.06 728.24 L228.63 732.12 L229.2 736.01 L229.76 739.9 L230.31 743.79 L230.85 747.67 L231.37 751.56 L231.88 755.45 L232.37 759.34 L232.85 763.23 L233.33 767.11 L233.8 771" fill="none" stroke="#111" stroke-width="1.85" stroke-linejoin="round" stroke-linecap="round"/>
<path d="M203.5 615.5 L204.74 619.39 L205.98 623.27 L207.22 627.16 L208.46 631.05 L209.7 634.94 L210.96 638.83 L212.23 642.71 L213.53 646.6 L214.87 650.49 L216.24 654.38 L217.66 658.26 L219.1 662.15 L220.57 666.04 L222.03 669.92 L223.47 673.81 L224.85 677.7 L226.16 681.59 L227.39 685.48 L228.53 689.36 L229.56 693.25 L230.5 697.14 L231.35 701.02 L232.12 704.91 L232.84 708.8 L233.5 712.69 L234.13 716.58 L234.73 720.46 L235.32 724.35 L235.9 728.24 L236.48 732.12 L237.05 736.01 L237.62 739.9 L238.17 743.79 L238.72 747.67 L239.24 751.56 L239.76 755.45 L240.26 759.34 L240.74 763.23 L241.22 767.11 L241.7 771" fill="none" stroke="#111" stroke-width="1.85" stroke-linejoin="round" stroke-linecap="round"/>
<path d="M210 615.5 L211.12 619.39 L212.24 623.27 L213.36 627.16 L214.48 631.05 L215.6 634.94 L216.74 638.83 L217.88 642.71 L219.06 646.6 L220.27 650.49 L221.51 654.38 L222.79 658.26 L224.09 662.15 L225.41 666.04 L226.74 669.92 L228.03 673.81 L229.28 677.7 L230.47 681.59 L231.58 685.48 L232.6 689.36 L233.54 693.25 L234.39 697.14 L235.16 701.02 L235.85 704.91 L236.5 708.8 L237.09 712.69 L237.66 716.58 L238.21 720.46 L238.74 724.35 L239.26 728.24 L239.78 732.12 L240.3 736.01 L240.81 739.9 L241.31 743.79 L241.8 747.67 L242.28 751.56 L242.75 755.45 L243.2 759.34 L243.64 763.23 L244.07 767.11 L244.5 771" fill="none" stroke="#111" stroke-width="1.85" stroke-linejoin="round" stroke-linecap="round"/>
<path d="M218.5 615.5 L219.45 619.39 L220.41 623.27 L221.36 627.16 L222.32 631.05 L223.27 634.94 L224.24 638.83 L225.22 642.71 L226.22 646.6 L227.25 650.49 L228.31 654.38 L229.4 658.26 L230.51 662.15 L231.64 666.04 L232.76 669.92 L233.87 673.81 L234.93 677.7 L235.94 681.59 L236.89 685.48 L237.76 689.36 L238.56 693.25 L239.28 697.14 L239.94 701.02 L240.53 704.91 L241.08 708.8 L241.59 712.69 L242.07 716.58 L242.54 720.46 L242.99 724.35 L243.44 728.24 L243.88 732.12 L244.32 736.01 L244.76 739.9 L245.18 743.79 L245.6 747.67 L246.01 751.56 L246.4 755.45 L246.79 759.34 L247.16 763.23 L247.53 767.11 L247.9 771" fill="none" stroke="#111" stroke-width="1.85" stroke-linejoin="round" stroke-linecap="round"/>
<path d="M222.4 615.5 L223.32 619.39 L224.23 623.27 L225.15 627.16 L226.07 631.05 L227 634.94 L227.93 638.83 L228.87 642.71 L229.83 646.6 L230.82 650.49 L231.84 654.38 L232.89 658.26 L233.96 662.15 L235.04 666.04 L236.13 669.92 L237.19 673.81 L238.22 677.7 L239.19 681.59 L240.1 685.48 L240.94 689.36 L241.71 693.25 L242.4 697.14 L243.04 701.02 L243.61 704.91 L244.13 708.8 L244.62 712.69 L245.09 716.58 L245.54 720.46 L245.97 724.35 L246.4 728.24 L246.83 732.12 L247.26 736.01 L247.68 739.9 L248.09 743.79 L248.49 747.67 L248.88 751.56 L249.26 755.45 L249.63 759.34 L249.99 763.23 L250.35 767.11 L250.7 771" fill="none" stroke="#111" stroke-width="1.85" stroke-linejoin="round" stroke-linecap="round"/>
<path d="M226.9 615.5 L227.98 619.39 L229.06 623.27 L230.14 627.16 L231.22 631.05 L232.31 634.94 L233.4 638.83 L234.51 642.71 L235.65 646.6 L236.81 650.49 L238.01 654.38 L239.25 658.26 L240.5 662.15 L241.78 666.04 L243.05 669.92 L244.3 673.81 L245.51 677.7 L246.65 681.59 L247.73 685.48 L248.72 689.36 L249.62 693.25 L250.44 697.14 L251.18 701.02 L251.85 704.91 L252.47 708.8 L253.05 712.69 L253.6 716.58 L254.13 720.46 L254.64 724.35 L255.14 728.24 L255.65 732.12 L256.15 736.01 L256.64 739.9 L257.12 743.79 L257.6 747.67 L258.06 751.56 L258.51 755.45 L258.94 759.34 L259.37 763.23 L259.79 767.11 L260.2 771" fill="none" stroke="#111" stroke-width="1.85" stroke-linejoin="round" stroke-linecap="round"/>
<path d="M238 615.5 L238.98 619.39 L239.95 623.27 L240.93 627.16 L241.91 631.05 L242.89 634.94 L243.88 638.83 L244.88 642.71 L245.9 646.6 L246.96 650.49 L248.04 654.38 L249.16 658.26 L250.29 662.15 L251.45 666.04 L252.6 669.92 L253.73 673.81 L254.83 677.7 L255.86 681.59 L256.82 685.48 L257.72 689.36 L258.53 693.25 L259.28 697.14 L259.95 701.02 L260.55 704.91 L261.12 708.8 L261.64 712.69 L262.13 716.58 L262.61 720.46 L263.07 724.35 L263.53 728.24 L263.98 732.12 L264.44 736.01 L264.88 739.9 L265.32 743.79 L265.75 747.67 L266.16 751.56 L266.57 755.45 L266.96 759.34 L267.35 763.23 L267.73 767.11 L268.1 771" fill="none" stroke="#111" stroke-width="1.85" stroke-linejoin="round" stroke-linecap="round"/>
<path d="M240.75 615.5 L241.75 619.39 L242.74 623.27 L243.74 627.16 L244.74 631.05 L245.74 634.94 L246.75 638.83 L247.78 642.71 L248.83 646.6 L249.9 650.49 L251.01 654.38 L252.15 658.26 L253.31 662.15 L254.49 666.04 L255.67 669.92 L256.82 673.81 L257.94 677.7 L258.99 681.59 L259.98 685.48 L260.89 689.36 L261.73 693.25 L262.49 697.14 L263.17 701.02 L263.79 704.91 L264.37 708.8 L264.9 712.69 L265.4 716.58 L265.89 720.46 L266.36 724.35 L266.83 728.24 L267.3 732.12 L267.76 736.01 L268.21 739.9 L268.66 743.79 L269.1 747.67 L269.52 751.56 L269.94 755.45 L270.34 759.34 L270.73 763.23 L271.12 767.11 L271.5 771" fill="none" stroke="#111" stroke-width="1.85" stroke-linejoin="round" stroke-linecap="round"/>
<path d="M243.75 615.5 L244.76 619.39 L245.77 623.27 L246.78 627.16 L247.79 631.05 L248.81 634.94 L249.83 638.83 L250.87 642.71 L251.93 646.6 L253.02 650.49 L254.14 654.38 L255.3 658.26 L256.47 662.15 L257.67 666.04 L258.86 669.92 L260.03 673.81 L261.16 677.7 L262.23 681.59 L263.23 685.48 L264.16 689.36 L265 693.25 L265.77 697.14 L266.46 701.02 L267.09 704.91 L267.67 708.8 L268.21 712.69 L268.73 716.58 L269.22 720.46 L269.69 724.35 L270.17 728.24 L270.64 732.12 L271.11 736.01 L271.57 739.9 L272.02 743.79 L272.47 747.67 L272.9 751.56 L273.32 755.45 L273.72 759.34 L274.12 763.23 L274.51 767.11 L274.9 771" fill="none" stroke="#111" stroke-width="1.85" stroke-linejoin="round" stroke-linecap="round"/>
<path d="M248 615.5 L249 619.39 L250 623.27 L251 627.16 L252 631.05 L253 634.94 L254.01 638.83 L255.04 642.71 L256.09 646.6 L257.17 650.49 L258.27 654.38 L259.42 658.26 L260.58 662.15 L261.76 666.04 L262.94 669.92 L264.1 673.81 L265.22 677.7 L266.27 681.59 L267.26 685.48 L268.18 689.36 L269.01 693.25 L269.77 697.14 L270.46 701.02 L271.08 704.91 L271.65 708.8 L272.19 712.69 L272.7 716.58 L273.18 720.46 L273.65 724.35 L274.12 728.24 L274.59 732.12 L275.05 736.01 L275.51 739.9 L275.95 743.79 L276.39 747.67 L276.82 751.56 L277.23 755.45 L277.64 759.34 L278.03 763.23 L278.42 767.11 L278.8 771" fill="none" stroke="#111" stroke-width="1.85" stroke-linejoin="round" stroke-linecap="round"/>
<text x="77.5" y="532.3" font-size="5.5" text-anchor="end" font-weight="bold" fill="#111">120</text>
<text x="77.5" y="537.43" font-size="5.5" text-anchor="end" font-weight="bold" fill="#111">90</text>
<text x="77.5" y="544.67" font-size="5.5" text-anchor="end" font-weight="bold" fill="#111">60</text>
<text x="77.5" y="551.91" font-size="5.5" text-anchor="end" font-weight="bold" fill="#111">40</text>
<text x="77.5" y="557.04" font-size="5.5" text-anchor="end" font-weight="bold" fill="#111">30</text>
<text x="77.5" y="564.28" font-size="5.5" text-anchor="end" font-weight="bold" fill="#111">20</text>
<text x="77.5" y="576.65" font-size="5.5" text-anchor="end" font-weight="bold" fill="#111">10</text>
<text x="77.5" y="580.63" font-size="5.5" text-anchor="end" font-weight="bold" fill="#111">8</text>
<text x="77.5" y="585.76" font-size="5.5" text-anchor="end" font-weight="bold" fill="#111">6</text>
<text x="77.5" y="593" font-size="5.5" text-anchor="end" font-weight="bold" fill="#111">4</text>
<text x="77.5" y="605.37" font-size="5.5" text-anchor="end" font-weight="bold" fill="#111">2</text>
<text x="77.5" y="617.74" font-size="5.5" text-anchor="end" font-weight="bold" fill="#111">1</text>
<text x="77.5" y="624.98" font-size="5.5" text-anchor="end" font-weight="bold" fill="#111">40</text>
<text x="77.5" y="637.35" font-size="5.5" text-anchor="end" font-weight="bold" fill="#111">20</text>
<text x="77.5" y="649.72" font-size="5.5" text-anchor="end" font-weight="bold" fill="#111">10</text>
<text x="77.5" y="653.7" font-size="5.5" text-anchor="end" font-weight="bold" fill="#111">8</text>
<text x="77.5" y="658.84" font-size="5.5" text-anchor="end" font-weight="bold" fill="#111">6</text>
<text x="77.5" y="666.07" font-size="5.5" text-anchor="end" font-weight="bold" fill="#111">4</text>
<text x="77.5" y="678.44" font-size="5.5" text-anchor="end" font-weight="bold" fill="#111">2</text>
<text x="77.5" y="690.81" font-size="5.5" text-anchor="end" font-weight="bold" fill="#111">1</text>
<text x="77.5" y="694.79" font-size="5.5" text-anchor="end" font-weight="bold" fill="#111">0.8</text>
<text x="77.5" y="699.93" font-size="5.5" text-anchor="end" font-weight="bold" fill="#111">0.6</text>
<text x="77.5" y="707.17" font-size="5.5" text-anchor="end" font-weight="bold" fill="#111">0.4</text>
<text x="77.5" y="719.54" font-size="5.5" text-anchor="end" font-weight="bold" fill="#111">0.2</text>
<text x="77.5" y="731.91" font-size="5.5" text-anchor="end" font-weight="bold" fill="#111">0.1</text>
<text x="77.5" y="735.89" font-size="5.5" text-anchor="end" font-weight="bold" fill="#111">0.08</text>
<text x="77.5" y="741.02" font-size="5.5" text-anchor="end" font-weight="bold" fill="#111">0.06</text>
<text x="77.5" y="748.26" font-size="5.5" text-anchor="end" font-weight="bold" fill="#111">0.04</text>
<text x="77.5" y="760.63" font-size="5.5" text-anchor="end" font-weight="bold" fill="#111">0.02</text>
<text x="77.5" y="773" font-size="5.5" text-anchor="end" font-weight="bold" fill="#111">0.01</text>
<text x="80.2" y="777.4" font-size="5.3" text-anchor="middle" font-weight="bold" fill="#111">20</text>
<text x="94.59" y="777.4" font-size="5.3" text-anchor="middle" font-weight="bold" fill="#111">30</text>
<text x="104.79" y="777.4" font-size="5.3" text-anchor="middle" font-weight="bold" fill="#111">40</text>
<text x="112.71" y="777.4" font-size="5.3" text-anchor="middle" font-weight="bold" fill="#111">50</text>
<text x="119.18" y="777.4" font-size="5.3" text-anchor="middle" font-weight="bold" fill="#111">60</text>
<text x="124.65" y="777.4" font-size="5.3" text-anchor="middle" font-weight="bold" fill="#111">70</text>
<text x="137.31" y="777.4" font-size="5.3" text-anchor="middle" font-weight="bold" fill="#111">100</text>
<text x="161.9" y="777.4" font-size="5.3" text-anchor="middle" font-weight="bold" fill="#111">200</text>
<text x="176.29" y="777.4" font-size="5.3" text-anchor="middle" font-weight="bold" fill="#111">300</text>
<text x="194.41" y="777.4" font-size="5.3" text-anchor="middle" font-weight="bold" fill="#111">500</text>
<text x="219.01" y="777.4" font-size="5.3" text-anchor="middle" font-weight="bold" fill="#111">1000</text>
<text x="243.6" y="777.4" font-size="5.3" text-anchor="middle" font-weight="bold" fill="#111">2000</text>
<text x="257.99" y="777.4" font-size="5.3" text-anchor="middle" font-weight="bold" fill="#111">3000</text>
<text x="276.11" y="777.4" font-size="5.3" text-anchor="middle" font-weight="bold" fill="#111">5000</text>
<line x1="55.3" y1="529.8" x2="64.8" y2="529.8" stroke="#444" stroke-width="0.8"/>
<line x1="55.3" y1="615.5" x2="64.8" y2="615.5" stroke="#444" stroke-width="0.8"/>
<line x1="55.3" y1="771" x2="64.8" y2="771" stroke="#444" stroke-width="0.8"/>
<line x1="59.8" y1="558.5" x2="59.8" y2="534" stroke="#1a1a1a" stroke-width="0.7"/>
<path d="M59.8 530.8 L58.5 534.8 L61.1 534.8 Z" fill="#111"/>
<line x1="59.8" y1="589.5" x2="59.8" y2="611.5" stroke="#555" stroke-width="0.7"/>
<path d="M59.8 615 L58.5 611 L61.1 611 Z" fill="#111"/>
<path d="M59.8 616 L58.5 620 L61.1 620 Z" fill="#111"/>
<line x1="59.8" y1="619.5" x2="59.8" y2="680.5" stroke="#555" stroke-width="0.7"/>
<line x1="59.8" y1="714" x2="59.8" y2="767" stroke="#666" stroke-width="0.7" stroke-dasharray="6 1.5"/>
<path d="M59.8 770.5 L58.5 766.5 L61.1 766.5 Z" fill="#111"/>
<text x="62.4" y="574" font-size="7.2" text-anchor="middle" font-weight="normal" fill="#111" transform="rotate(-90 62.4 574)" stroke="#111" stroke-width="0.22">Minute</text>
<text x="62.4" y="697" font-size="7.2" text-anchor="middle" font-weight="normal" fill="#111" transform="rotate(-90 62.4 697)" stroke="#111" stroke-width="0.22">Second</text>
<text x="46.5" y="628" font-size="9" text-anchor="middle" font-weight="normal" fill="#111" transform="rotate(-90 46.5 628)" stroke="#111" stroke-width="0.22">Time</text>
<line x1="43.3" y1="617" x2="43.3" y2="589" stroke="#1a1a1a" stroke-width="0.9"/>
<path d="M43.3 585 L41.5 590 L45.1 590 Z" fill="#111"/>
<text x="154.4" y="793.8" font-size="8.3" text-anchor="start" font-weight="normal" fill="#111" stroke="#111" stroke-width="0.22">Current (A)</text>
<line x1="199.5" y1="790.6" x2="227.6" y2="790.6" stroke="#1a1a1a" stroke-width="0.9"/>
<path d="M232 790.6 L226.5 788.8 L226.5 792.4 Z" fill="#111"/>
<line x1="451.5" y1="532.95" x2="655.8" y2="532.95" stroke="#1a1a1a" stroke-width="1.05"/>
<line x1="451.5" y1="540.21" x2="655.8" y2="540.21" stroke="#1a1a1a" stroke-width="1.05" stroke-dasharray="9 2"/>
<line x1="451.5" y1="547.47" x2="655.8" y2="547.47" stroke="#1a1a1a" stroke-width="1.05" stroke-dasharray="9 2"/>
<line x1="451.5" y1="552.62" x2="655.8" y2="552.62" stroke="#1a1a1a" stroke-width="1.05" stroke-dasharray="9 2"/>
<line x1="451.5" y1="559.88" x2="655.8" y2="559.88" stroke="#1a1a1a" stroke-width="1.05" stroke-dasharray="9 2"/>
<line x1="451.5" y1="572.3" x2="655.8" y2="572.3" stroke="#1a1a1a" stroke-width="1.35"/>
<line x1="451.5" y1="576.29" x2="655.8" y2="576.29" stroke="#1a1a1a" stroke-width="1.05"/>
<line x1="451.5" y1="581.44" x2="655.8" y2="581.44" stroke="#1a1a1a" stroke-width="1.05"/>
<line x1="451.5" y1="588.7" x2="655.8" y2="588.7" stroke="#1a1a1a" stroke-width="1.05"/>
<line x1="451.5" y1="601.11" x2="655.8" y2="601.11" stroke="#1a1a1a" stroke-width="1.05"/>
<line x1="451.5" y1="613.53" x2="655.8" y2="613.53" stroke="#1a1a1a" stroke-width="1.35"/>
<line x1="451.5" y1="620.79" x2="655.8" y2="620.79" stroke="#1a1a1a" stroke-width="1.05"/>
<line x1="451.5" y1="633.2" x2="655.8" y2="633.2" stroke="#1a1a1a" stroke-width="1.05"/>
<line x1="451.5" y1="645.61" x2="655.8" y2="645.61" stroke="#1a1a1a" stroke-width="1.35"/>
<line x1="451.5" y1="649.6" x2="655.8" y2="649.6" stroke="#1a1a1a" stroke-width="1.05"/>
<line x1="451.5" y1="654.76" x2="655.8" y2="654.76" stroke="#1a1a1a" stroke-width="1.05"/>
<line x1="451.5" y1="662.02" x2="655.8" y2="662.02" stroke="#1a1a1a" stroke-width="1.05"/>
<line x1="451.5" y1="674.43" x2="655.8" y2="674.43" stroke="#1a1a1a" stroke-width="1.05"/>
<line x1="451.5" y1="686.84" x2="655.8" y2="686.84" stroke="#1a1a1a" stroke-width="1.35"/>
<line x1="451.5" y1="690.83" x2="655.8" y2="690.83" stroke="#1a1a1a" stroke-width="1.05"/>
<line x1="451.5" y1="695.99" x2="655.8" y2="695.99" stroke="#1a1a1a" stroke-width="1.05"/>
<line x1="451.5" y1="703.25" x2="655.8" y2="703.25" stroke="#1a1a1a" stroke-width="1.05"/>
<line x1="451.5" y1="715.66" x2="655.8" y2="715.66" stroke="#1a1a1a" stroke-width="1.05"/>
<line x1="451.5" y1="728.07" x2="655.8" y2="728.07" stroke="#1a1a1a" stroke-width="1.35"/>
<line x1="451.5" y1="732.07" x2="655.8" y2="732.07" stroke="#1a1a1a" stroke-width="1.05"/>
<line x1="451.5" y1="737.22" x2="655.8" y2="737.22" stroke="#1a1a1a" stroke-width="1.05"/>
<line x1="451.5" y1="744.48" x2="655.8" y2="744.48" stroke="#1a1a1a" stroke-width="1.05"/>
<line x1="451.5" y1="756.89" x2="655.8" y2="756.89" stroke="#1a1a1a" stroke-width="1.05"/>
<line x1="461.62" y1="527.8" x2="461.62" y2="769.3" stroke="#1a1a1a" stroke-width="0.85"/>
<line x1="469.47" y1="527.8" x2="469.47" y2="769.3" stroke="#1a1a1a" stroke-width="0.85"/>
<line x1="475.88" y1="527.8" x2="475.88" y2="769.3" stroke="#1a1a1a" stroke-width="0.85"/>
<line x1="481.31" y1="527.8" x2="481.31" y2="769.3" stroke="#1a1a1a" stroke-width="0.85"/>
<line x1="486" y1="527.8" x2="486" y2="769.3" stroke="#1a1a1a" stroke-width="0.85"/>
<line x1="490.15" y1="527.8" x2="490.15" y2="769.3" stroke="#1a1a1a" stroke-width="0.85"/>
<line x1="493.85" y1="527.8" x2="493.85" y2="769.3" stroke="#1a1a1a" stroke-width="0.85"/>
<line x1="518.24" y1="527.8" x2="518.24" y2="769.3" stroke="#1a1a1a" stroke-width="0.85"/>
<line x1="532.5" y1="527.8" x2="532.5" y2="769.3" stroke="#1a1a1a" stroke-width="0.85"/>
<line x1="550.47" y1="527.8" x2="550.47" y2="769.3" stroke="#1a1a1a" stroke-width="0.85"/>
<line x1="574.85" y1="527.8" x2="574.85" y2="769.3" stroke="#1a1a1a" stroke-width="0.85"/>
<line x1="599.24" y1="527.8" x2="599.24" y2="769.3" stroke="#1a1a1a" stroke-width="0.85"/>
<line x1="613.5" y1="527.8" x2="613.5" y2="769.3" stroke="#1a1a1a" stroke-width="0.85"/>
<line x1="631.47" y1="527.8" x2="631.47" y2="769.3" stroke="#1a1a1a" stroke-width="0.85"/>
<rect x="472.7" y="584.5" width="4.6" height="22" fill="#fff"/>
<rect x="483.7" y="584.5" width="4.6" height="22" fill="#fff"/>
<rect x="508.2" y="584.5" width="4.6" height="22" fill="#fff"/>
<rect x="515.2" y="584.5" width="4.6" height="22" fill="#fff"/>
<rect x="529.7" y="584.5" width="4.6" height="22" fill="#fff"/>
<rect x="542.2" y="584.5" width="4.6" height="22" fill="#fff"/>
<rect x="553.2" y="584.5" width="4.6" height="22" fill="#fff"/>
<rect x="560.2" y="584.5" width="4.6" height="22" fill="#fff"/>
<rect x="567.2" y="584.5" width="4.6" height="22" fill="#fff"/>
<rect x="575.2" y="584.5" width="4.6" height="22" fill="#fff"/>
<rect x="582.2" y="584.5" width="4.6" height="22" fill="#fff"/>
<rect x="588.2" y="584.5" width="4.6" height="22" fill="#fff"/>
<rect x="594.2" y="584.5" width="4.6" height="22" fill="#fff"/>
<text x="476.6" y="606" font-size="4.5" text-anchor="start" font-weight="bold" fill="#111" transform="rotate(-90 476.6 606)" stroke="#111" stroke-width="0.12" textLength="20" lengthAdjust="spacingAndGlyphs">CR6L-20</text>
<text x="487.6" y="606" font-size="4.5" text-anchor="start" font-weight="bold" fill="#111" transform="rotate(-90 487.6 606)" stroke="#111" stroke-width="0.12" textLength="20" lengthAdjust="spacingAndGlyphs">CR6L-30</text>
<text x="512.1" y="606" font-size="4.5" text-anchor="start" font-weight="bold" fill="#111" transform="rotate(-90 512.1 606)" stroke="#111" stroke-width="0.12" textLength="20" lengthAdjust="spacingAndGlyphs">CR6L-50</text>
<text x="519.1" y="606" font-size="4.5" text-anchor="start" font-weight="bold" fill="#111" transform="rotate(-90 519.1 606)" stroke="#111" stroke-width="0.12" textLength="20" lengthAdjust="spacingAndGlyphs">CR6L-75</text>
<text x="533.6" y="606" font-size="4.5" text-anchor="start" font-weight="bold" fill="#111" transform="rotate(-90 533.6 606)" stroke="#111" stroke-width="0.12" textLength="20" lengthAdjust="spacingAndGlyphs">CR6L-100</text>
<text x="546.1" y="606" font-size="4.5" text-anchor="start" font-weight="bold" fill="#111" transform="rotate(-90 546.1 606)" stroke="#111" stroke-width="0.12" textLength="20" lengthAdjust="spacingAndGlyphs">CR6L-150</text>
<text x="557.1" y="606" font-size="4.5" text-anchor="start" font-weight="bold" fill="#111" transform="rotate(-90 557.1 606)" stroke="#111" stroke-width="0.12" textLength="20" lengthAdjust="spacingAndGlyphs">CR6L-200</text>
<text x="564.1" y="606" font-size="4.5" text-anchor="start" font-weight="bold" fill="#111" transform="rotate(-90 564.1 606)" stroke="#111" stroke-width="0.12" textLength="20" lengthAdjust="spacingAndGlyphs">CR6L-250</text>
<text x="571.1" y="606" font-size="4.5" text-anchor="start" font-weight="bold" fill="#111" transform="rotate(-90 571.1 606)" stroke="#111" stroke-width="0.12" textLength="20" lengthAdjust="spacingAndGlyphs">CR6L-300</text>
<text x="579.1" y="606" font-size="4.5" text-anchor="start" font-weight="bold" fill="#111" transform="rotate(-90 579.1 606)" stroke="#111" stroke-width="0.12" textLength="20" lengthAdjust="spacingAndGlyphs">CR6L-350</text>
<text x="586.1" y="606" font-size="4.5" text-anchor="start" font-weight="bold" fill="#111" transform="rotate(-90 586.1 606)" stroke="#111" stroke-width="0.12" textLength="20" lengthAdjust="spacingAndGlyphs">CR6L-400</text>
<text x="592.1" y="606" font-size="4.5" text-anchor="start" font-weight="bold" fill="#111" transform="rotate(-90 592.1 606)" stroke="#111" stroke-width="0.12" textLength="20" lengthAdjust="spacingAndGlyphs">CR6L-500</text>
<text x="598.1" y="606" font-size="4.5" text-anchor="start" font-weight="bold" fill="#111" transform="rotate(-90 598.1 606)" stroke="#111" stroke-width="0.12" textLength="20" lengthAdjust="spacingAndGlyphs">CR6L-600</text>
<path d="M451.5 527.8 L655.8 527.8 L655.8 769.3 L451.5 769.3 Z" fill="none" stroke="#111" stroke-width="1.4"/>
<path d="M475 613.5 L475.72 617.39 L476.44 621.29 L477.18 625.18 L477.92 629.08 L478.7 632.98 L479.5 636.87 L480.33 640.76 L481.22 644.66 L482.15 648.55 L483.13 652.45 L484.15 656.35 L485.19 660.24 L486.25 664.13 L487.31 668.03 L488.35 671.92 L489.36 675.82 L490.33 679.71 L491.25 683.61 L492.11 687.5 L492.92 691.4 L493.68 695.29 L494.38 699.19 L495.04 703.08 L495.65 706.98 L496.22 710.88 L496.75 714.77 L497.23 718.66 L497.67 722.56 L498.07 726.45 L498.43 730.35 L498.74 734.25 L499.03 738.14 L499.28 742.03 L499.51 745.93 L499.72 749.82 L499.92 753.72 L500.12 757.62 L500.31 761.51 L500.51 765.4 L500.7 769.3" fill="none" stroke="#111" stroke-width="1.85" stroke-linejoin="round" stroke-linecap="round"/>
<path d="M486 613.5 L487.17 617.39 L488.32 621.29 L489.47 625.18 L490.59 629.08 L491.68 632.98 L492.74 636.87 L493.76 640.76 L494.77 644.66 L495.74 648.55 L496.68 652.45 L497.59 656.35 L498.46 660.24 L499.29 664.13 L500.07 668.03 L500.78 671.92 L501.44 675.82 L502.03 679.71 L502.55 683.61 L503.03 687.5 L503.45 691.4 L503.84 695.29 L504.18 699.19 L504.51 703.08 L504.81 706.98 L505.11 710.88 L505.4 714.77 L505.7 718.66 L505.99 722.56 L506.29 726.45 L506.59 730.35 L506.9 734.25 L507.22 738.14 L507.55 742.03 L507.9 745.93 L508.26 749.82 L508.63 753.72 L509.02 757.62 L509.42 761.51 L509.83 765.4 L510.25 769.3" fill="none" stroke="#111" stroke-width="1.85" stroke-linejoin="round" stroke-linecap="round"/>
<path d="M512 613.5 L513.38 617.39 L514.74 621.29 L516.09 625.18 L517.41 629.08 L518.7 632.98 L519.95 636.87 L521.16 640.76 L522.34 644.66 L523.48 648.55 L524.6 652.45 L525.67 656.35 L526.7 660.24 L527.68 664.13 L528.59 668.03 L529.44 671.92 L530.21 675.82 L530.9 679.71 L531.52 683.61 L532.08 687.5 L532.58 691.4 L533.03 695.29 L533.45 699.19 L533.83 703.08 L534.19 706.98 L534.54 710.88 L534.88 714.77 L535.23 718.66 L535.57 722.56 L535.93 726.45 L536.29 730.35 L536.65 734.25 L537.03 738.14 L537.42 742.03 L537.83 745.93 L538.25 749.82 L538.69 753.72 L539.15 757.62 L539.62 761.51 L540.11 765.4 L540.6 769.3" fill="none" stroke="#111" stroke-width="1.85" stroke-linejoin="round" stroke-linecap="round"/>
<path d="M517.5 613.5 L519.13 617.39 L520.74 621.29 L522.33 625.18 L523.89 629.08 L525.41 632.98 L526.89 636.87 L528.32 640.76 L529.72 644.66 L531.07 648.55 L532.39 652.45 L533.66 656.35 L534.87 660.24 L536.03 664.13 L537.11 668.03 L538.11 671.92 L539.02 675.82 L539.84 679.71 L540.57 683.61 L541.23 687.5 L541.82 691.4 L542.36 695.29 L542.85 699.19 L543.29 703.08 L543.72 706.98 L544.14 710.88 L544.54 714.77 L544.95 718.66 L545.36 722.56 L545.78 726.45 L546.2 730.35 L546.64 734.25 L547.08 738.14 L547.54 742.03 L548.02 745.93 L548.52 749.82 L549.04 753.72 L549.58 757.62 L550.14 761.51 L550.72 765.4 L551.3 769.3" fill="none" stroke="#111" stroke-width="1.85" stroke-linejoin="round" stroke-linecap="round"/>
<path d="M532 613.5 L533.96 617.39 L535.9 621.29 L537.82 625.18 L539.7 629.08 L541.53 632.98 L543.31 636.87 L545.03 640.76 L546.71 644.66 L548.34 648.55 L549.92 652.45 L551.46 656.35 L552.92 660.24 L554.31 664.13 L555.61 668.03 L556.81 671.92 L557.91 675.82 L558.9 679.71 L559.78 683.61 L560.58 687.5 L561.29 691.4 L561.93 695.29 L562.52 699.19 L563.06 703.08 L563.58 706.98 L564.07 710.88 L564.57 714.77 L565.06 718.66 L565.55 722.56 L566.05 726.45 L566.56 730.35 L567.08 734.25 L567.62 738.14 L568.18 742.03 L568.75 745.93 L569.35 749.82 L569.98 753.72 L570.63 757.62 L571.31 761.51 L572 765.4 L572.7 769.3" fill="none" stroke="#111" stroke-width="1.85" stroke-linejoin="round" stroke-linecap="round"/>
<path d="M544 613.5 L545.9 617.39 L547.77 621.29 L549.63 625.18 L551.45 629.08 L553.22 632.98 L554.95 636.87 L556.61 640.76 L558.24 644.66 L559.82 648.55 L561.35 652.45 L562.84 656.35 L564.25 660.24 L565.6 664.13 L566.86 668.03 L568.02 671.92 L569.08 675.82 L570.04 679.71 L570.9 683.61 L571.67 687.5 L572.35 691.4 L572.98 695.29 L573.54 699.19 L574.07 703.08 L574.57 706.98 L575.05 710.88 L575.53 714.77 L576 718.66 L576.47 722.56 L576.96 726.45 L577.46 730.35 L577.96 734.25 L578.48 738.14 L579.02 742.03 L579.58 745.93 L580.16 749.82 L580.77 753.72 L581.4 757.62 L582.05 761.51 L582.72 765.4 L583.4 769.3" fill="none" stroke="#111" stroke-width="1.85" stroke-linejoin="round" stroke-linecap="round"/>
<path d="M559.5 613.5 L561.25 617.39 L562.98 621.29 L564.69 625.18 L566.36 629.08 L568 632.98 L569.58 636.87 L571.12 640.76 L572.62 644.66 L574.07 648.55 L575.49 652.45 L576.85 656.35 L578.16 660.24 L579.4 664.13 L580.56 668.03 L581.63 671.92 L582.61 675.82 L583.49 679.71 L584.28 683.61 L584.99 687.5 L585.62 691.4 L586.2 695.29 L586.72 699.19 L587.2 703.08 L587.66 706.98 L588.11 710.88 L588.55 714.77 L588.98 718.66 L589.42 722.56 L589.87 726.45 L590.32 730.35 L590.79 734.25 L591.27 738.14 L591.76 742.03 L592.28 745.93 L592.81 749.82 L593.37 753.72 L593.96 757.62 L594.56 761.51 L595.18 765.4 L595.8 769.3" fill="none" stroke="#111" stroke-width="1.85" stroke-linejoin="round" stroke-linecap="round"/>
<path d="M565.5 613.5 L567.36 617.39 L569.21 621.29 L571.04 625.18 L572.83 629.08 L574.57 632.98 L576.27 636.87 L577.91 640.76 L579.51 644.66 L581.06 648.55 L582.56 652.45 L584.03 656.35 L585.41 660.24 L586.74 664.13 L587.98 668.03 L589.12 671.92 L590.17 675.82 L591.11 679.71 L591.95 683.61 L592.71 687.5 L593.39 691.4 L594 695.29 L594.56 699.19 L595.07 703.08 L595.56 706.98 L596.04 710.88 L596.51 714.77 L596.97 718.66 L597.44 722.56 L597.92 726.45 L598.4 730.35 L598.9 734.25 L599.42 738.14 L599.94 742.03 L600.49 745.93 L601.06 749.82 L601.66 753.72 L602.28 757.62 L602.92 761.51 L603.58 765.4 L604.25 769.3" fill="none" stroke="#111" stroke-width="1.85" stroke-linejoin="round" stroke-linecap="round"/>
<path d="M574 613.5 L576.11 617.39 L578.19 621.29 L580.26 625.18 L582.27 629.08 L584.24 632.98 L586.15 636.87 L588.01 640.76 L589.81 644.66 L591.57 648.55 L593.27 652.45 L594.92 656.35 L596.48 660.24 L597.98 664.13 L599.38 668.03 L600.67 671.92 L601.85 675.82 L602.91 679.71 L603.86 683.61 L604.72 687.5 L605.48 691.4 L606.18 695.29 L606.81 699.19 L607.39 703.08 L607.94 706.98 L608.48 710.88 L609.01 714.77 L609.53 718.66 L610.06 722.56 L610.6 726.45 L611.15 730.35 L611.71 734.25 L612.29 738.14 L612.89 742.03 L613.51 745.93 L614.15 749.82 L614.83 753.72 L615.53 757.62 L616.25 761.51 L617 765.4 L617.75 769.3" fill="none" stroke="#111" stroke-width="1.85" stroke-linejoin="round" stroke-linecap="round"/>
<path d="M584 613.5 L585.95 617.39 L587.88 621.29 L589.79 625.18 L591.66 629.08 L593.48 632.98 L595.25 636.87 L596.97 640.76 L598.64 644.66 L600.26 648.55 L601.84 652.45 L603.36 656.35 L604.81 660.24 L606.2 664.13 L607.5 668.03 L608.69 671.92 L609.79 675.82 L610.76 679.71 L611.65 683.61 L612.44 687.5 L613.15 691.4 L613.79 695.29 L614.37 699.19 L614.91 703.08 L615.42 706.98 L615.92 710.88 L616.41 714.77 L616.89 718.66 L617.38 722.56 L617.88 726.45 L618.39 730.35 L618.91 734.25 L619.45 738.14 L620 742.03 L620.57 745.93 L621.17 749.82 L621.79 753.72 L622.44 757.62 L623.11 761.51 L623.8 765.4 L624.5 769.3" fill="none" stroke="#111" stroke-width="1.85" stroke-linejoin="round" stroke-linecap="round"/>
<path d="M589 613.5 L590.9 617.39 L592.77 621.29 L594.63 625.18 L596.45 629.08 L598.22 632.98 L599.95 636.87 L601.61 640.76 L603.24 644.66 L604.82 648.55 L606.35 652.45 L607.84 656.35 L609.25 660.24 L610.6 664.13 L611.86 668.03 L613.02 671.92 L614.08 675.82 L615.04 679.71 L615.9 683.61 L616.67 687.5 L617.35 691.4 L617.98 695.29 L618.54 699.19 L619.07 703.08 L619.57 706.98 L620.05 710.88 L620.53 714.77 L621 718.66 L621.47 722.56 L621.96 726.45 L622.46 730.35 L622.96 734.25 L623.48 738.14 L624.02 742.03 L624.58 745.93 L625.16 749.82 L625.77 753.72 L626.4 757.62 L627.05 761.51 L627.72 765.4 L628.4 769.3" fill="none" stroke="#111" stroke-width="1.85" stroke-linejoin="round" stroke-linecap="round"/>
<path d="M599.5 613.5 L601.38 617.39 L603.24 621.29 L605.09 625.18 L606.89 629.08 L608.65 632.98 L610.36 636.87 L612.02 640.76 L613.63 644.66 L615.2 648.55 L616.72 652.45 L618.19 656.35 L619.59 660.24 L620.93 664.13 L622.18 668.03 L623.34 671.92 L624.39 675.82 L625.34 679.71 L626.19 683.61 L626.95 687.5 L627.64 691.4 L628.26 695.29 L628.82 699.19 L629.34 703.08 L629.83 706.98 L630.31 710.88 L630.79 714.77 L631.26 718.66 L631.73 722.56 L632.21 726.45 L632.7 730.35 L633.2 734.25 L633.72 738.14 L634.25 742.03 L634.81 745.93 L635.38 749.82 L635.99 753.72 L636.62 757.62 L637.26 761.51 L637.93 765.4 L638.6 769.3" fill="none" stroke="#111" stroke-width="1.85" stroke-linejoin="round" stroke-linecap="round"/>
<path d="M602 613.5 L604.22 617.39 L606.42 621.29 L608.59 625.18 L610.72 629.08 L612.79 632.98 L614.81 636.87 L616.76 640.76 L618.66 644.66 L620.51 648.55 L622.3 652.45 L624.04 656.35 L625.69 660.24 L627.27 664.13 L628.75 668.03 L630.11 671.92 L631.35 675.82 L632.46 679.71 L633.47 683.61 L634.37 687.5 L635.18 691.4 L635.91 695.29 L636.57 699.19 L637.18 703.08 L637.77 706.98 L638.33 710.88 L638.89 714.77 L639.44 718.66 L640 722.56 L640.57 726.45 L641.15 730.35 L641.74 734.25 L642.35 738.14 L642.97 742.03 L643.63 745.93 L644.31 749.82 L645.02 753.72 L645.76 757.62 L646.52 761.51 L647.31 765.4 L648.1 769.3" fill="none" stroke="#111" stroke-width="1.85" stroke-linejoin="round" stroke-linecap="round"/>
<text x="448.5" y="529.8" font-size="5.5" text-anchor="end" font-weight="bold" fill="#111">120</text>
<text x="448.5" y="534.95" font-size="5.5" text-anchor="end" font-weight="bold" fill="#111">90</text>
<text x="448.5" y="542.21" font-size="5.5" text-anchor="end" font-weight="bold" fill="#111">60</text>
<text x="448.5" y="549.47" font-size="5.5" text-anchor="end" font-weight="bold" fill="#111">40</text>
<text x="448.5" y="554.62" font-size="5.5" text-anchor="end" font-weight="bold" fill="#111">30</text>
<text x="448.5" y="561.88" font-size="5.5" text-anchor="end" font-weight="bold" fill="#111">20</text>
<text x="448.5" y="574.3" font-size="5.5" text-anchor="end" font-weight="bold" fill="#111">10</text>
<text x="448.5" y="578.29" font-size="5.5" text-anchor="end" font-weight="bold" fill="#111">8</text>
<text x="448.5" y="583.44" font-size="5.5" text-anchor="end" font-weight="bold" fill="#111">6</text>
<text x="448.5" y="590.7" font-size="5.5" text-anchor="end" font-weight="bold" fill="#111">4</text>
<text x="448.5" y="603.11" font-size="5.5" text-anchor="end" font-weight="bold" fill="#111">2</text>
<text x="448.5" y="615.53" font-size="5.5" text-anchor="end" font-weight="bold" fill="#111">1</text>
<text x="448.5" y="622.79" font-size="5.5" text-anchor="end" font-weight="bold" fill="#111">40</text>
<text x="448.5" y="635.2" font-size="5.5" text-anchor="end" font-weight="bold" fill="#111">20</text>
<text x="448.5" y="647.61" font-size="5.5" text-anchor="end" font-weight="bold" fill="#111">10</text>
<text x="448.5" y="651.6" font-size="5.5" text-anchor="end" font-weight="bold" fill="#111">8</text>
<text x="448.5" y="656.76" font-size="5.5" text-anchor="end" font-weight="bold" fill="#111">6</text>
<text x="448.5" y="664.02" font-size="5.5" text-anchor="end" font-weight="bold" fill="#111">4</text>
<text x="448.5" y="676.43" font-size="5.5" text-anchor="end" font-weight="bold" fill="#111">2</text>
<text x="448.5" y="688.84" font-size="5.5" text-anchor="end" font-weight="bold" fill="#111">1</text>
<text x="448.5" y="692.83" font-size="5.5" text-anchor="end" font-weight="bold" fill="#111">0.8</text>
<text x="448.5" y="697.99" font-size="5.5" text-anchor="end" font-weight="bold" fill="#111">0.6</text>
<text x="448.5" y="705.25" font-size="5.5" text-anchor="end" font-weight="bold" fill="#111">0.4</text>
<text x="448.5" y="717.66" font-size="5.5" text-anchor="end" font-weight="bold" fill="#111">0.2</text>
<text x="448.5" y="730.07" font-size="5.5" text-anchor="end" font-weight="bold" fill="#111">0.1</text>
<text x="448.5" y="734.07" font-size="5.5" text-anchor="end" font-weight="bold" fill="#111">0.08</text>
<text x="448.5" y="739.22" font-size="5.5" text-anchor="end" font-weight="bold" fill="#111">0.06</text>
<text x="448.5" y="746.48" font-size="5.5" text-anchor="end" font-weight="bold" fill="#111">0.04</text>
<text x="448.5" y="758.89" font-size="5.5" text-anchor="end" font-weight="bold" fill="#111">0.02</text>
<text x="448.5" y="771.3" font-size="5.5" text-anchor="end" font-weight="bold" fill="#111">0.01</text>
<text x="451.5" y="775.7" font-size="5.3" text-anchor="middle" font-weight="bold" fill="#111">30</text>
<text x="461.62" y="775.7" font-size="5.3" text-anchor="middle" font-weight="bold" fill="#111">40</text>
<text x="469.47" y="775.7" font-size="5.3" text-anchor="middle" font-weight="bold" fill="#111">50</text>
<text x="475.88" y="775.7" font-size="5.3" text-anchor="middle" font-weight="bold" fill="#111">60</text>
<text x="486" y="775.7" font-size="5.3" text-anchor="middle" font-weight="bold" fill="#111">80</text>
<text x="493.85" y="775.7" font-size="5.3" text-anchor="middle" font-weight="bold" fill="#111">100</text>
<text x="518.24" y="775.7" font-size="5.3" text-anchor="middle" font-weight="bold" fill="#111">200</text>
<text x="532.5" y="775.7" font-size="5.3" text-anchor="middle" font-weight="bold" fill="#111">300</text>
<text x="550.47" y="775.7" font-size="5.3" text-anchor="middle" font-weight="bold" fill="#111">500</text>
<text x="574.85" y="775.7" font-size="5.3" text-anchor="middle" font-weight="bold" fill="#111">1000</text>
<text x="599.24" y="775.7" font-size="5.3" text-anchor="middle" font-weight="bold" fill="#111">2000</text>
<text x="613.5" y="775.7" font-size="5.3" text-anchor="middle" font-weight="bold" fill="#111">3000</text>
<text x="631.47" y="775.7" font-size="5.3" text-anchor="middle" font-weight="bold" fill="#111">5000</text>
<text x="655.85" y="775.7" font-size="5.3" text-anchor="middle" font-weight="bold" fill="#111">10000</text>
<line x1="422.3" y1="527.3" x2="431.8" y2="527.3" stroke="#444" stroke-width="0.8"/>
<line x1="422.3" y1="613.5" x2="431.8" y2="613.5" stroke="#444" stroke-width="0.8"/>
<line x1="422.3" y1="769.3" x2="431.8" y2="769.3" stroke="#444" stroke-width="0.8"/>
<line x1="426.8" y1="557.5" x2="426.8" y2="531.5" stroke="#1a1a1a" stroke-width="0.7"/>
<path d="M426.8 528.3 L425.5 532.3 L428.1 532.3 Z" fill="#111"/>
<line x1="426.8" y1="588.5" x2="426.8" y2="609.5" stroke="#555" stroke-width="0.7"/>
<path d="M426.8 613 L425.5 609 L428.1 609 Z" fill="#111"/>
<path d="M426.8 614 L425.5 618 L428.1 618 Z" fill="#111"/>
<line x1="426.8" y1="617.5" x2="426.8" y2="668.5" stroke="#555" stroke-width="0.7"/>
<line x1="426.8" y1="701" x2="426.8" y2="765.3" stroke="#666" stroke-width="0.7" stroke-dasharray="6 1.5"/>
<path d="M426.8 768.8 L425.5 764.8 L428.1 764.8 Z" fill="#111"/>
<text x="429.4" y="573" font-size="7.2" text-anchor="middle" font-weight="normal" fill="#111" transform="rotate(-90 429.4 573)" stroke="#111" stroke-width="0.22">Minute</text>
<text x="429.4" y="684.5" font-size="7.2" text-anchor="middle" font-weight="normal" fill="#111" transform="rotate(-90 429.4 684.5)" stroke="#111" stroke-width="0.22">Second</text>
<text x="417.9" y="640.5" font-size="9" text-anchor="middle" font-weight="normal" fill="#111" transform="rotate(-90 417.9 640.5)" stroke="#111" stroke-width="0.22">Time</text>
<line x1="414.7" y1="621.5" x2="414.7" y2="599.5" stroke="#1a1a1a" stroke-width="0.9"/>
<path d="M414.7 595.5 L412.9 600.5 L416.5 600.5 Z" fill="#111"/>
<text x="521.5" y="794.2" font-size="8.3" text-anchor="start" font-weight="normal" fill="#111" stroke="#111" stroke-width="0.22">Current (A)</text>
<line x1="567" y1="791" x2="595.1" y2="791" stroke="#1a1a1a" stroke-width="0.9"/>
<path d="M599.5 791 L594 789.2 L594 792.8 Z" fill="#111"/>
<line x1="114.1" y1="833.5" x2="114.1" y2="1026.5" stroke="#222" stroke-width="1.1"/>
<line x1="122.82" y1="833.5" x2="122.82" y2="1026.5" stroke="#444" stroke-width="0.95"/>
<line x1="129.59" y1="833.5" x2="129.59" y2="1026.5" stroke="#222" stroke-width="1.1"/>
<line x1="135.11" y1="833.5" x2="135.11" y2="1026.5" stroke="#444" stroke-width="0.95"/>
<line x1="139.79" y1="833.5" x2="139.79" y2="1026.5" stroke="#444" stroke-width="0.95"/>
<line x1="143.84" y1="833.5" x2="143.84" y2="1026.5" stroke="#444" stroke-width="0.95"/>
<line x1="147.41" y1="833.5" x2="147.41" y2="1026.5" stroke="#444" stroke-width="0.95"/>
<line x1="150.6" y1="833.5" x2="150.6" y2="1026.5" stroke="#222" stroke-width="1.1"/>
<line x1="171.61" y1="833.5" x2="171.61" y2="1026.5" stroke="#777" stroke-width="0.85"/>
<line x1="183.9" y1="833.5" x2="183.9" y2="1026.5" stroke="#777" stroke-width="0.85"/>
<line x1="192.62" y1="833.5" x2="192.62" y2="1026.5" stroke="#444" stroke-width="0.95"/>
<line x1="199.39" y1="833.5" x2="199.39" y2="1026.5" stroke="#222" stroke-width="1.1"/>
<line x1="204.91" y1="833.5" x2="204.91" y2="1026.5" stroke="#444" stroke-width="0.95"/>
<line x1="209.59" y1="833.5" x2="209.59" y2="1026.5" stroke="#444" stroke-width="0.95"/>
<line x1="213.64" y1="833.5" x2="213.64" y2="1026.5" stroke="#444" stroke-width="0.95"/>
<line x1="217.21" y1="833.5" x2="217.21" y2="1026.5" stroke="#444" stroke-width="0.95"/>
<line x1="220.4" y1="833.5" x2="220.4" y2="1026.5" stroke="#222" stroke-width="1.1"/>
<line x1="241.41" y1="833.5" x2="241.41" y2="1026.5" stroke="#777" stroke-width="0.85"/>
<line x1="253.7" y1="833.5" x2="253.7" y2="1026.5" stroke="#222" stroke-width="1.1"/>
<line x1="262.42" y1="833.5" x2="262.42" y2="1026.5" stroke="#777" stroke-width="0.85"/>
<line x1="269.19" y1="833.5" x2="269.19" y2="1026.5" stroke="#777" stroke-width="0.85"/>
<line x1="274.71" y1="833.5" x2="274.71" y2="1026.5" stroke="#444" stroke-width="0.95"/>
<line x1="279.39" y1="833.5" x2="279.39" y2="1026.5" stroke="#444" stroke-width="0.95"/>
<line x1="283.44" y1="833.5" x2="283.44" y2="1026.5" stroke="#444" stroke-width="0.95"/>
<line x1="287.01" y1="833.5" x2="287.01" y2="1026.5" stroke="#444" stroke-width="0.95"/>
<line x1="102.25" y1="1014.89" x2="290.5" y2="1014.89" stroke="#222" stroke-width="1.1"/>
<line x1="102.25" y1="1005.91" x2="290.5" y2="1005.91" stroke="#444" stroke-width="0.95"/>
<line x1="102.25" y1="998.94" x2="290.5" y2="998.94" stroke="#222" stroke-width="1.1"/>
<line x1="102.25" y1="993.25" x2="290.5" y2="993.25" stroke="#444" stroke-width="0.95"/>
<line x1="102.25" y1="988.44" x2="290.5" y2="988.44" stroke="#444" stroke-width="0.95"/>
<line x1="102.25" y1="984.27" x2="290.5" y2="984.27" stroke="#444" stroke-width="0.95"/>
<line x1="102.25" y1="980.59" x2="290.5" y2="980.59" stroke="#444" stroke-width="0.95"/>
<line x1="102.25" y1="977.3" x2="290.5" y2="977.3" stroke="#222" stroke-width="1.1"/>
<line x1="102.25" y1="955.66" x2="290.5" y2="955.66" stroke="#444" stroke-width="0.95"/>
<line x1="102.25" y1="942.99" x2="290.5" y2="942.99" stroke="#222" stroke-width="1.1"/>
<line x1="102.25" y1="934.01" x2="290.5" y2="934.01" stroke="#444" stroke-width="0.95"/>
<line x1="102.25" y1="927.04" x2="290.5" y2="927.04" stroke="#222" stroke-width="1.1"/>
<line x1="102.25" y1="921.35" x2="290.5" y2="921.35" stroke="#444" stroke-width="0.95"/>
<line x1="102.25" y1="916.54" x2="290.5" y2="916.54" stroke="#444" stroke-width="0.95"/>
<line x1="102.25" y1="912.37" x2="290.5" y2="912.37" stroke="#444" stroke-width="0.95"/>
<line x1="102.25" y1="908.69" x2="290.5" y2="908.69" stroke="#444" stroke-width="0.95"/>
<line x1="102.25" y1="905.4" x2="290.5" y2="905.4" stroke="#222" stroke-width="1.1"/>
<line x1="102.25" y1="883.76" x2="290.5" y2="883.76" stroke="#444" stroke-width="0.95"/>
<line x1="102.25" y1="871.09" x2="290.5" y2="871.09" stroke="#222" stroke-width="1.1"/>
<line x1="102.25" y1="862.11" x2="290.5" y2="862.11" stroke="#444" stroke-width="0.95"/>
<line x1="102.25" y1="855.14" x2="290.5" y2="855.14" stroke="#222" stroke-width="1.1"/>
<line x1="102.25" y1="849.45" x2="290.5" y2="849.45" stroke="#444" stroke-width="0.95"/>
<line x1="102.25" y1="844.64" x2="290.5" y2="844.64" stroke="#444" stroke-width="0.95"/>
<line x1="102.25" y1="840.47" x2="290.5" y2="840.47" stroke="#444" stroke-width="0.95"/>
<line x1="102.25" y1="836.79" x2="290.5" y2="836.79" stroke="#444" stroke-width="0.95"/>
<rect x="102.25" y="833.5" width="188.25" height="193" fill="none" stroke="#111" stroke-width="1.3"/>
<line x1="102.25" y1="998.8" x2="265" y2="833.5" stroke="#111" stroke-width="1.1"/>
<line x1="102.25" y1="1015.5" x2="282" y2="833.5" stroke="#111" stroke-width="1.1"/>
<line x1="102.25" y1="1016.25" x2="290.5" y2="984" stroke="#111" stroke-width="1.35"/>
<line x1="102.25" y1="1007.5" x2="290.5" y2="975.5" stroke="#111" stroke-width="1.35"/>
<line x1="111.25" y1="989.66" x2="290.5" y2="962" stroke="#111" stroke-width="1.35"/>
<line x1="122.5" y1="978.23" x2="290.5" y2="949.5" stroke="#111" stroke-width="1.35"/>
<line x1="130" y1="970.62" x2="290.5" y2="943" stroke="#111" stroke-width="1.35"/>
<line x1="138.75" y1="961.73" x2="290.5" y2="937" stroke="#111" stroke-width="1.35"/>
<line x1="141.5" y1="958.94" x2="290.5" y2="933" stroke="#111" stroke-width="1.35"/>
<line x1="144" y1="956.4" x2="290.5" y2="931.25" stroke="#111" stroke-width="1.35"/>
<line x1="146.25" y1="954.11" x2="290.5" y2="927.75" stroke="#111" stroke-width="1.35"/>
<line x1="151.25" y1="949.03" x2="290.5" y2="926" stroke="#111" stroke-width="1.35"/>
<line x1="156.25" y1="943.95" x2="290.5" y2="917.25" stroke="#111" stroke-width="1.35"/>
<line x1="162.5" y1="937.61" x2="290.5" y2="914.6" stroke="#111" stroke-width="1.35"/>
<line x1="167.5" y1="932.53" x2="290.5" y2="908.5" stroke="#111" stroke-width="1.35"/>
<line x1="172.5" y1="927.45" x2="290.5" y2="906.3" stroke="#111" stroke-width="1.35"/>
<line x1="177" y1="922.88" x2="290.5" y2="902.4" stroke="#111" stroke-width="1.35"/>
<line x1="182.5" y1="917.29" x2="290.5" y2="896.25" stroke="#111" stroke-width="1.35"/>
<line x1="188.75" y1="910.94" x2="290.5" y2="892.3" stroke="#111" stroke-width="1.35"/>
<line x1="195" y1="904.6" x2="290.5" y2="888.4" stroke="#111" stroke-width="1.35"/>
<line x1="200" y1="899.52" x2="290.5" y2="884.4" stroke="#111" stroke-width="1.35"/>
<line x1="206.25" y1="893.17" x2="290.5" y2="881.4" stroke="#111" stroke-width="1.35"/>
<rect x="251.9" y="879.61" width="33.9" height="6.72" fill="#fff" transform="rotate(-13.6 252.5 885.3)"/>
<rect x="272.3" y="883.88" width="13.3" height="6.62" fill="#fff" transform="rotate(-8 285 889.5)"/>
<rect x="256.18" y="888.88" width="29.42" height="6.62" fill="#fff" transform="rotate(-8 285 894.5)"/>
<rect x="257.3" y="896.38" width="13.3" height="6.62" fill="#fff" transform="rotate(-8 270 902)"/>
<rect x="272.3" y="899.88" width="13.3" height="6.62" fill="#fff" transform="rotate(-8 285 905.5)"/>
<rect x="256.18" y="905.88" width="29.42" height="6.62" fill="#fff" transform="rotate(-8 285 911.5)"/>
<rect x="256.18" y="913.88" width="29.42" height="6.62" fill="#fff" transform="rotate(-8 285 919.5)"/>
<rect x="257.3" y="921.88" width="13.3" height="6.62" fill="#fff" transform="rotate(-8 270 927.5)"/>
<rect x="272.3" y="924.88" width="13.3" height="6.62" fill="#fff" transform="rotate(-8 285 930.5)"/>
<rect x="256.18" y="930.88" width="29.42" height="6.62" fill="#fff" transform="rotate(-8 285 936.5)"/>
<rect x="257.3" y="936.38" width="13.3" height="6.62" fill="#fff" transform="rotate(-8 270 942)"/>
<rect x="238.9" y="948.11" width="46.17" height="6.72" fill="#fff" transform="rotate(-13.5 239.5 953.8)"/>
<rect x="272.34" y="949.38" width="9.26" height="6.62" fill="#fff" transform="rotate(-8 281 955)"/>
<rect x="272.34" y="961.38" width="9.26" height="6.62" fill="#fff" transform="rotate(-8 281 967)"/>
<rect x="272.34" y="974.38" width="9.26" height="6.62" fill="#fff" transform="rotate(-8 281 980)"/>
<rect x="272.34" y="982.38" width="9.26" height="6.62" fill="#fff" transform="rotate(-8 281 988)"/>
<rect x="216.4" y="866.53" width="63.08" height="5.98" fill="#fff" transform="rotate(-43.3 217 871.6)"/>
<rect x="232.2" y="868.73" width="55.8" height="5.98" fill="#fff" transform="rotate(-44 232.8 873.8)"/>
<text x="252.5" y="885.3" font-size="7.3" text-anchor="start" fill="#111" font-weight="bold" transform="rotate(-13.6 252.5 885.3)">CR2L-600</text>
<text x="285" y="889.5" font-size="7.2" text-anchor="end" fill="#111" font-weight="bold" transform="rotate(-8 285 889.5)">550</text>
<text x="285" y="894.5" font-size="7.2" text-anchor="end" fill="#111" font-weight="bold" transform="rotate(-8 285 894.5)">500-450</text>
<text x="270" y="902" font-size="7.2" text-anchor="end" fill="#111" font-weight="bold" transform="rotate(-8 270 902)">400</text>
<text x="285" y="905.5" font-size="7.2" text-anchor="end" fill="#111" font-weight="bold" transform="rotate(-8 285 905.5)">350</text>
<text x="285" y="911.5" font-size="7.2" text-anchor="end" fill="#111" font-weight="bold" transform="rotate(-8 285 911.5)">325-300</text>
<text x="285" y="919.5" font-size="7.2" text-anchor="end" fill="#111" font-weight="bold" transform="rotate(-8 285 919.5)">250-225</text>
<text x="270" y="927.5" font-size="7.2" text-anchor="end" fill="#111" font-weight="bold" transform="rotate(-8 270 927.5)">200</text>
<text x="285" y="930.5" font-size="7.2" text-anchor="end" fill="#111" font-weight="bold" transform="rotate(-8 285 930.5)">175</text>
<text x="285" y="936.5" font-size="7.2" text-anchor="end" fill="#111" font-weight="bold" transform="rotate(-8 285 936.5)">150-140</text>
<text x="270" y="942" font-size="7.2" text-anchor="end" fill="#111" font-weight="bold" transform="rotate(-8 270 942)">125</text>
<text x="239.5" y="953.8" font-size="7.3" text-anchor="start" fill="#111" font-weight="bold" transform="rotate(-13.5 239.5 953.8)">CR2L(S)-100</text>
<text x="281" y="955" font-size="7.2" text-anchor="end" fill="#111" font-weight="bold" transform="rotate(-8 281 955)">75</text>
<text x="281" y="967" font-size="7.2" text-anchor="end" fill="#111" font-weight="bold" transform="rotate(-8 281 967)">50</text>
<text x="281" y="980" font-size="7.2" text-anchor="end" fill="#111" font-weight="bold" transform="rotate(-8 281 980)">30</text>
<text x="281" y="988" font-size="7.2" text-anchor="end" fill="#111" font-weight="bold" transform="rotate(-8 281 988)">20</text>
<text x="217" y="871.6" font-size="6.5" text-anchor="start" fill="#111" font-weight="bold" transform="rotate(-43.3 217 871.6)">Asym. 2√2 × Ieff.</text>
<text x="232.8" y="873.8" font-size="6.5" text-anchor="start" fill="#111" font-weight="bold" transform="rotate(-44 232.8 873.8)">Sym. √2 × Ieff.</text>
<text x="99" y="873.39" font-size="6.6" text-anchor="end" font-weight="bold" fill="#111">30</text>
<text x="99" y="907.7" font-size="6.6" text-anchor="end" font-weight="bold" fill="#111">10</text>
<text x="99" y="929.34" font-size="6.6" text-anchor="end" font-weight="bold" fill="#111">5</text>
<text x="99" y="945.29" font-size="6.6" text-anchor="end" font-weight="bold" fill="#111">3</text>
<text x="99" y="979.6" font-size="6.6" text-anchor="end" font-weight="bold" fill="#111">1</text>
<text x="99" y="1029.86" font-size="6.6" text-anchor="end" font-weight="bold" fill="#111">0.2</text>
<text x="114.1" y="1033.9" font-size="7" text-anchor="middle" font-weight="bold" fill="#111" letter-spacing="0.3">0.3</text>
<text x="129.59" y="1033.9" font-size="7" text-anchor="middle" font-weight="bold" fill="#111" letter-spacing="0.3">0.5</text>
<text x="150.6" y="1033.9" font-size="7" text-anchor="middle" font-weight="bold" fill="#111" letter-spacing="0.3">1</text>
<text x="183.9" y="1033.9" font-size="7" text-anchor="middle" font-weight="bold" fill="#111" letter-spacing="0.3">3</text>
<text x="199.39" y="1033.9" font-size="7" text-anchor="middle" font-weight="bold" fill="#111" letter-spacing="0.3">5</text>
<text x="220.4" y="1033.9" font-size="7" text-anchor="middle" font-weight="bold" fill="#111" letter-spacing="0.3">10</text>
<text x="253.7" y="1033.9" font-size="7" text-anchor="middle" font-weight="bold" fill="#111" letter-spacing="0.3">30</text>
<text x="269.19" y="1033.9" font-size="7" text-anchor="middle" font-weight="bold" fill="#111" letter-spacing="0.3">50</text>
<text x="290.2" y="1033.9" font-size="7" text-anchor="middle" font-weight="bold" fill="#111" letter-spacing="0.3">100</text>
<text x="82.2" y="1024" font-size="8.2" fill="#111" stroke="#111" stroke-width="0.2" transform="rotate(-90 82.2 1024)" textLength="151.5" lengthAdjust="spacingAndGlyphs">Max. Let-through current (Peak value) kA</text>
<line x1="79.4" y1="869.6" x2="79.4" y2="839.5" stroke="#1a1a1a" stroke-width="0.9"/>
<path d="M79.4 835.5 L77.6 840.5 L81.2 840.5 Z" fill="#111"/>
<text x="101.75" y="1051" font-size="8.2" fill="#111" stroke="#111" stroke-width="0.2" textLength="141.75" lengthAdjust="spacingAndGlyphs">Available current (Sym, rms) I eff. (kA)</text>
<line x1="248" y1="1048" x2="277.6" y2="1048" stroke="#1a1a1a" stroke-width="0.9"/>
<path d="M282 1048 L276.5 1046.2 L276.5 1049.8 Z" fill="#111"/>
<line x1="459.48" y1="837.2" x2="459.48" y2="1021.5" stroke="#222" stroke-width="1.1"/>
<line x1="468.86" y1="837.2" x2="468.86" y2="1021.5" stroke="#444" stroke-width="0.95"/>
<line x1="476.14" y1="837.2" x2="476.14" y2="1021.5" stroke="#222" stroke-width="1.1"/>
<line x1="482.09" y1="837.2" x2="482.09" y2="1021.5" stroke="#444" stroke-width="0.95"/>
<line x1="487.12" y1="837.2" x2="487.12" y2="1021.5" stroke="#444" stroke-width="0.95"/>
<line x1="491.47" y1="837.2" x2="491.47" y2="1021.5" stroke="#444" stroke-width="0.95"/>
<line x1="495.31" y1="837.2" x2="495.31" y2="1021.5" stroke="#444" stroke-width="0.95"/>
<line x1="498.75" y1="837.2" x2="498.75" y2="1021.5" stroke="#222" stroke-width="1.1"/>
<line x1="521.36" y1="837.2" x2="521.36" y2="1021.5" stroke="#444" stroke-width="0.95"/>
<line x1="534.58" y1="837.2" x2="534.58" y2="1021.5" stroke="#222" stroke-width="1.1"/>
<line x1="543.96" y1="837.2" x2="543.96" y2="1021.5" stroke="#444" stroke-width="0.95"/>
<line x1="551.24" y1="837.2" x2="551.24" y2="1021.5" stroke="#222" stroke-width="1.1"/>
<line x1="557.19" y1="837.2" x2="557.19" y2="1021.5" stroke="#444" stroke-width="0.95"/>
<line x1="562.22" y1="837.2" x2="562.22" y2="1021.5" stroke="#444" stroke-width="0.95"/>
<line x1="566.57" y1="837.2" x2="566.57" y2="1021.5" stroke="#444" stroke-width="0.95"/>
<line x1="570.41" y1="837.2" x2="570.41" y2="1021.5" stroke="#444" stroke-width="0.95"/>
<line x1="573.85" y1="837.2" x2="573.85" y2="1021.5" stroke="#222" stroke-width="1.1"/>
<line x1="596.46" y1="837.2" x2="596.46" y2="1021.5" stroke="#444" stroke-width="0.95"/>
<line x1="609.68" y1="837.2" x2="609.68" y2="1021.5" stroke="#222" stroke-width="1.1"/>
<line x1="619.06" y1="837.2" x2="619.06" y2="1021.5" stroke="#444" stroke-width="0.95"/>
<line x1="626.34" y1="837.2" x2="626.34" y2="1021.5" stroke="#222" stroke-width="1.1"/>
<line x1="632.29" y1="837.2" x2="632.29" y2="1021.5" stroke="#444" stroke-width="0.95"/>
<line x1="637.32" y1="837.2" x2="637.32" y2="1021.5" stroke="#444" stroke-width="0.95"/>
<line x1="641.67" y1="837.2" x2="641.67" y2="1021.5" stroke="#444" stroke-width="0.95"/>
<line x1="645.51" y1="837.2" x2="645.51" y2="1021.5" stroke="#444" stroke-width="0.95"/>
<line x1="445.4" y1="1008.26" x2="648.7" y2="1008.26" stroke="#222" stroke-width="1.1"/>
<line x1="445.4" y1="998.64" x2="648.7" y2="998.64" stroke="#444" stroke-width="0.95"/>
<line x1="445.4" y1="991.18" x2="648.7" y2="991.18" stroke="#222" stroke-width="1.1"/>
<line x1="445.4" y1="985.08" x2="648.7" y2="985.08" stroke="#444" stroke-width="0.95"/>
<line x1="445.4" y1="979.93" x2="648.7" y2="979.93" stroke="#444" stroke-width="0.95"/>
<line x1="445.4" y1="975.46" x2="648.7" y2="975.46" stroke="#444" stroke-width="0.95"/>
<line x1="445.4" y1="971.52" x2="648.7" y2="971.52" stroke="#444" stroke-width="0.95"/>
<line x1="445.4" y1="968" x2="648.7" y2="968" stroke="#222" stroke-width="1.1"/>
<line x1="445.4" y1="944.82" x2="648.7" y2="944.82" stroke="#444" stroke-width="0.95"/>
<line x1="445.4" y1="931.26" x2="648.7" y2="931.26" stroke="#222" stroke-width="1.1"/>
<line x1="445.4" y1="921.64" x2="648.7" y2="921.64" stroke="#444" stroke-width="0.95"/>
<line x1="445.4" y1="914.18" x2="648.7" y2="914.18" stroke="#222" stroke-width="1.1"/>
<line x1="445.4" y1="908.08" x2="648.7" y2="908.08" stroke="#444" stroke-width="0.95"/>
<line x1="445.4" y1="902.93" x2="648.7" y2="902.93" stroke="#444" stroke-width="0.95"/>
<line x1="445.4" y1="898.46" x2="648.7" y2="898.46" stroke="#444" stroke-width="0.95"/>
<line x1="445.4" y1="894.52" x2="648.7" y2="894.52" stroke="#444" stroke-width="0.95"/>
<line x1="445.4" y1="891" x2="648.7" y2="891" stroke="#222" stroke-width="1.1"/>
<line x1="445.4" y1="867.82" x2="648.7" y2="867.82" stroke="#444" stroke-width="0.95"/>
<line x1="445.4" y1="854.26" x2="648.7" y2="854.26" stroke="#222" stroke-width="1.1"/>
<line x1="445.4" y1="844.64" x2="648.7" y2="844.64" stroke="#444" stroke-width="0.95"/>
<rect x="445.4" y="837.2" width="203.3" height="184.3" fill="none" stroke="#111" stroke-width="1.3"/>
<line x1="445.4" y1="990" x2="596.4" y2="837.2" stroke="#111" stroke-width="1.1"/>
<line x1="445.4" y1="1008" x2="615" y2="837.2" stroke="#111" stroke-width="1.1"/>
<line x1="445.4" y1="1016.25" x2="648.7" y2="958.4" stroke="#111" stroke-width="1.35"/>
<line x1="445.4" y1="1007.5" x2="648.7" y2="948.5" stroke="#111" stroke-width="1.35"/>
<line x1="452.5" y1="982.82" x2="648.7" y2="929.3" stroke="#111" stroke-width="1.35"/>
<line x1="463.75" y1="971.43" x2="648.7" y2="921" stroke="#111" stroke-width="1.35"/>
<line x1="478.75" y1="956.25" x2="648.7" y2="909.7" stroke="#111" stroke-width="1.35"/>
<line x1="490" y1="944.87" x2="648.7" y2="902" stroke="#111" stroke-width="1.35"/>
<line x1="501.25" y1="933.48" x2="648.7" y2="892.7" stroke="#111" stroke-width="1.35"/>
<line x1="515" y1="919.57" x2="648.7" y2="884" stroke="#111" stroke-width="1.35"/>
<line x1="520.5" y1="914" x2="648.7" y2="881.5" stroke="#111" stroke-width="1.35"/>
<line x1="527.5" y1="906.92" x2="648.7" y2="874" stroke="#111" stroke-width="1.35"/>
<line x1="542.5" y1="891.74" x2="648.7" y2="867.8" stroke="#111" stroke-width="1.35"/>
<line x1="549" y1="885.17" x2="648.7" y2="864" stroke="#111" stroke-width="1.35"/>
<line x1="556.25" y1="877.83" x2="648.7" y2="853.7" stroke="#111" stroke-width="1.35"/>
<rect x="599.2" y="857.91" width="33.9" height="6.72" fill="#fff" transform="rotate(-19 599.8 863.6)"/>
<rect x="622.3" y="860.88" width="13.3" height="6.62" fill="#fff" transform="rotate(-8 635 866.5)"/>
<rect x="622.3" y="870.38" width="13.3" height="6.62" fill="#fff" transform="rotate(-8 635 876)"/>
<rect x="606.3" y="880.88" width="13.3" height="6.62" fill="#fff" transform="rotate(-8 619 886.5)"/>
<rect x="621.3" y="882.38" width="13.3" height="6.62" fill="#fff" transform="rotate(-8 634 888)"/>
<rect x="607.3" y="890.88" width="13.3" height="6.62" fill="#fff" transform="rotate(-8 620 896.5)"/>
<rect x="621.3" y="894.88" width="13.3" height="6.62" fill="#fff" transform="rotate(-8 634 900.5)"/>
<rect x="621.3" y="902.88" width="13.3" height="6.62" fill="#fff" transform="rotate(-8 634 908.5)"/>
<rect x="621.3" y="912.38" width="13.3" height="6.62" fill="#fff" transform="rotate(-8 634 918)"/>
<rect x="625.34" y="923.38" width="9.26" height="6.62" fill="#fff" transform="rotate(-8 634 929)"/>
<rect x="625.34" y="931.88" width="9.26" height="6.62" fill="#fff" transform="rotate(-8 634 937.5)"/>
<rect x="625.34" y="950.88" width="9.26" height="6.62" fill="#fff" transform="rotate(-8 634 956.5)"/>
<rect x="625.34" y="960.38" width="9.26" height="6.62" fill="#fff" transform="rotate(-8 634 966)"/>
<rect x="550" y="871.92" width="58.32" height="5.52" fill="#fff" transform="rotate(-45 550.6 876.6)"/>
<rect x="565.7" y="874.62" width="51.6" height="5.52" fill="#fff" transform="rotate(-46.3 566.3 879.3)"/>
<text x="599.8" y="863.6" font-size="7.3" text-anchor="start" fill="#111" font-weight="bold" transform="rotate(-19 599.8 863.6)">CR6L-600</text>
<text x="635" y="866.5" font-size="7.2" text-anchor="end" fill="#111" font-weight="bold" transform="rotate(-8 635 866.5)">500</text>
<text x="635" y="876" font-size="7.2" text-anchor="end" fill="#111" font-weight="bold" transform="rotate(-8 635 876)">400</text>
<text x="619" y="886.5" font-size="7.2" text-anchor="end" fill="#111" font-weight="bold" transform="rotate(-8 619 886.5)">350</text>
<text x="634" y="888" font-size="7.2" text-anchor="end" fill="#111" font-weight="bold" transform="rotate(-8 634 888)">300</text>
<text x="620" y="896.5" font-size="7.2" text-anchor="end" fill="#111" font-weight="bold" transform="rotate(-8 620 896.5)">250</text>
<text x="634" y="900.5" font-size="7.2" text-anchor="end" fill="#111" font-weight="bold" transform="rotate(-8 634 900.5)">200</text>
<text x="634" y="908.5" font-size="7.2" text-anchor="end" fill="#111" font-weight="bold" transform="rotate(-8 634 908.5)">150</text>
<text x="634" y="918" font-size="7.2" text-anchor="end" fill="#111" font-weight="bold" transform="rotate(-8 634 918)">100</text>
<text x="634" y="929" font-size="7.2" text-anchor="end" fill="#111" font-weight="bold" transform="rotate(-8 634 929)">75</text>
<text x="634" y="937.5" font-size="7.2" text-anchor="end" fill="#111" font-weight="bold" transform="rotate(-8 634 937.5)">50</text>
<text x="634" y="956.5" font-size="7.2" text-anchor="end" fill="#111" font-weight="bold" transform="rotate(-8 634 956.5)">30</text>
<text x="634" y="966" font-size="7.2" text-anchor="end" fill="#111" font-weight="bold" transform="rotate(-8 634 966)">20</text>
<text x="550.6" y="876.6" font-size="6" text-anchor="start" fill="#111" font-weight="bold" transform="rotate(-45 550.6 876.6)">Asym. 2√2 × Ieff.</text>
<text x="566.3" y="879.3" font-size="6" text-anchor="start" fill="#111" font-weight="bold" transform="rotate(-46.3 566.3 879.3)">Sym. √2 × Ieff.</text>
<text x="443" y="893.3" font-size="6.6" text-anchor="end" font-weight="bold" fill="#111">10</text>
<text x="443" y="916.48" font-size="6.6" text-anchor="end" font-weight="bold" fill="#111">5</text>
<text x="443" y="933.56" font-size="6.6" text-anchor="end" font-weight="bold" fill="#111">3</text>
<text x="443" y="970.3" font-size="6.6" text-anchor="end" font-weight="bold" fill="#111">1</text>
<text x="443" y="1024.12" font-size="6.6" text-anchor="end" font-weight="bold" fill="#111">0.2</text>
<text x="459.48" y="1028.9" font-size="7" text-anchor="middle" font-weight="bold" fill="#111" letter-spacing="0.3">0.3</text>
<text x="476.14" y="1028.9" font-size="7" text-anchor="middle" font-weight="bold" fill="#111" letter-spacing="0.3">0.5</text>
<text x="498.75" y="1028.9" font-size="7" text-anchor="middle" font-weight="bold" fill="#111" letter-spacing="0.3">1</text>
<text x="534.58" y="1028.9" font-size="7" text-anchor="middle" font-weight="bold" fill="#111" letter-spacing="0.3">3</text>
<text x="551.24" y="1028.9" font-size="7" text-anchor="middle" font-weight="bold" fill="#111" letter-spacing="0.3">5</text>
<text x="573.85" y="1028.9" font-size="7" text-anchor="middle" font-weight="bold" fill="#111" letter-spacing="0.3">10</text>
<text x="609.68" y="1028.9" font-size="7" text-anchor="middle" font-weight="bold" fill="#111" letter-spacing="0.3">30</text>
<text x="626.34" y="1028.9" font-size="7" text-anchor="middle" font-weight="bold" fill="#111" letter-spacing="0.3">50</text>
<text x="648.95" y="1028.9" font-size="7" text-anchor="middle" font-weight="bold" fill="#111" letter-spacing="0.3">100</text>
<text x="418.6" y="1039" font-size="8.2" fill="#111" stroke="#111" stroke-width="0.2" transform="rotate(-90 418.6 1039)" textLength="152.6" lengthAdjust="spacingAndGlyphs">Max. Let-through current (Peak value) kA</text>
<line x1="415.8" y1="879.6" x2="415.8" y2="850.5" stroke="#1a1a1a" stroke-width="0.9"/>
<path d="M415.8 846.5 L414 851.5 L417.6 851.5 Z" fill="#111"/>
<text x="470" y="1051.5" font-size="8.2" fill="#111" stroke="#111" stroke-width="0.2" textLength="140.7" lengthAdjust="spacingAndGlyphs">Available current (Sym, rms) I eff. (kA)</text>
<line x1="617.7" y1="1048.5" x2="645.6" y2="1048.5" stroke="#1a1a1a" stroke-width="0.9"/>
<path d="M650 1048.5 L644.5 1046.7 L644.5 1050.3 Z" fill="#111"/>
<text x="443" y="870.5" font-size="6.6" text-anchor="end" font-weight="bold" fill="#111">30</text>
<text x="100.5" y="863.3" font-size="6.8" text-anchor="end" font-weight="normal" fill="#111">(kA)</text>
<text x="443.5" y="862.5" font-size="6.8" text-anchor="end" font-weight="bold" fill="#111">(kA)</text>
<text x="287.5" y="1042.8" font-size="7" text-anchor="middle" font-weight="normal" fill="#111">(kA)</text>
<text x="648.5" y="1037.8" font-size="7.4" text-anchor="middle" font-weight="bold" fill="#111">(kA)</text>
<text x="38.3" y="40" font-size="17.2" font-weight="normal" font-style="normal" fill="#111" textLength="145.3" lengthAdjust="spacing">Low Voltage Fuses</text>
<text x="38" y="60.5" font-size="17.2" font-weight="bold" font-style="normal" fill="#111" textLength="185.2" lengthAdjust="spacing">BLC, CR and CS types</text>
<text x="38" y="80.3" font-size="17.2" font-weight="bold" font-style="normal" fill="#111" textLength="157.8" lengthAdjust="spacing">Super Rapid Fuses</text>
<rect x="37.8" y="181.8" width="7" height="6" fill="#111"/>
<text x="51.5" y="187.8" font-size="12.2" font-weight="bold" font-style="normal" fill="#111" textLength="125" lengthAdjust="spacing">Characteristic curves</text>
<text x="37" y="201.5" font-size="12.2" font-weight="bold" font-style="normal" fill="#111" textLength="79.5" lengthAdjust="spacing">CR2L, CR2LS</text>
<text x="37" y="214.5" font-size="12.2" font-weight="bold" font-style="normal" fill="#111" textLength="202.8" lengthAdjust="spacing">Melting time-current characteristic</text>
<text x="411.3" y="201" font-size="12.2" font-weight="bold" font-style="normal" fill="#111" textLength="33.2" lengthAdjust="spacing">CR6L</text>
<text x="411.3" y="214.5" font-size="12.2" font-weight="bold" font-style="normal" fill="#111" textLength="202.3" lengthAdjust="spacing">Melting time-current characteristic</text>
<text x="38.3" y="515.2" font-size="12.2" font-weight="bold" font-style="normal" fill="#111" textLength="216.5" lengthAdjust="spacing">Operating time-current characteristic</text>
<text x="411.3" y="515.2" font-size="12.2" font-weight="bold" font-style="normal" fill="#111" textLength="217.5" lengthAdjust="spacing">Operating time-current characteristic</text>
<text x="38.3" y="819.8" font-size="12.2" font-weight="bold" font-style="normal" fill="#111" textLength="175.5" lengthAdjust="spacing">Current-limiting characteristic</text>
<text x="411.3" y="819.8" font-size="12.2" font-weight="bold" font-style="normal" fill="#111" textLength="176.5" lengthAdjust="spacing">Current-limiting characteristic</text>
<text x="37.3" y="1112.5" font-size="12" font-weight="bold" font-style="normal" fill="#111" textLength="31.5" lengthAdjust="spacing">08/36</text>
<text x="421.8" y="1097" font-size="11" font-weight="normal" font-style="normal" fill="#111" textLength="310.7" lengthAdjust="spacing">Fuji Electric FA components &amp; Systems Co., Ltd./D &amp; C Catalog</text>
<text x="517" y="1109" font-size="11" font-weight="normal" font-style="italic" fill="#111" textLength="215.5" lengthAdjust="spacing">Information subject to change without notice</text>
</svg>
</body></html>
